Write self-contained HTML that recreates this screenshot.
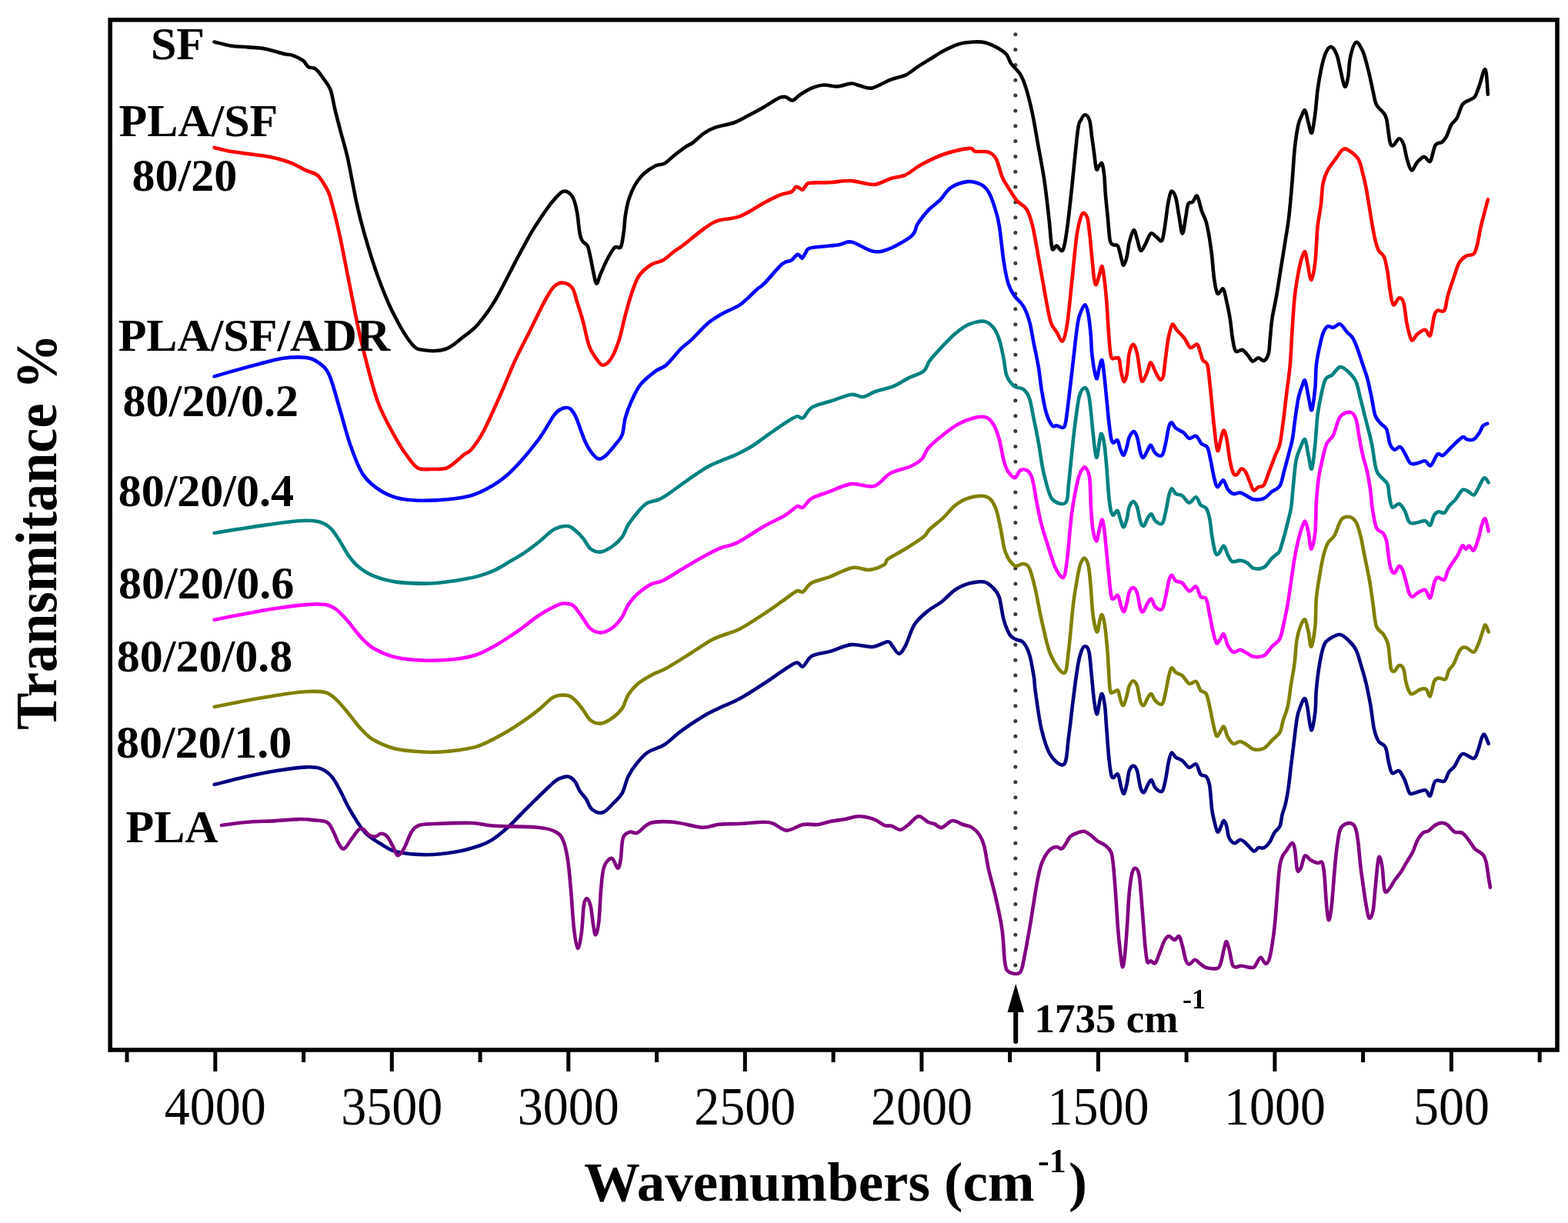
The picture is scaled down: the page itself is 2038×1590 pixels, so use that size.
<!DOCTYPE html>
<html><head><meta charset="utf-8"><title>FTIR</title>
<style>
html,body{margin:0;padding:0;background:#fff;}
svg{display:block;}
.b{font-family:"Liberation Serif","Times New Roman",serif;font-weight:bold;fill:#000;}
.r{font-family:"Liberation Serif","Times New Roman",serif;font-weight:normal;fill:#000;}
</style></head><body>
<svg width="2038" height="1590" viewBox="0 0 2038 1590">
<rect width="2038" height="1590" fill="#fff"/>
<g>
<rect x="143.2" y="25.8" width="1880.8" height="1339.2" fill="none" stroke="#000" stroke-width="5.6"/>
<path d="M1886.4,1365.0 V1393.0 M1656.9,1365.0 V1393.0 M1427.4,1365.0 V1393.0 M1197.9,1365.0 V1393.0 M968.3,1365.0 V1393.0 M738.8,1365.0 V1393.0 M509.3,1365.0 V1393.0 M279.8,1365.0 V1393.0 M2001.2,1365.0 V1381.0 M1771.6,1365.0 V1381.0 M1542.1,1365.0 V1381.0 M1312.6,1365.0 V1381.0 M1083.1,1365.0 V1381.0 M853.6,1365.0 V1381.0 M624.1,1365.0 V1381.0 M394.6,1365.0 V1381.0 M165.0,1365.0 V1381.0" stroke="#000" stroke-width="5" fill="none"/>
<text x="1886.4" y="1462" text-anchor="middle" font-size="69" textLength="99.0" lengthAdjust="spacingAndGlyphs" class="r">500</text>
<text x="1656.9" y="1462" text-anchor="middle" font-size="69" textLength="132.0" lengthAdjust="spacingAndGlyphs" class="r">1000</text>
<text x="1427.4" y="1462" text-anchor="middle" font-size="69" textLength="132.0" lengthAdjust="spacingAndGlyphs" class="r">1500</text>
<text x="1197.9" y="1462" text-anchor="middle" font-size="69" textLength="132.0" lengthAdjust="spacingAndGlyphs" class="r">2000</text>
<text x="968.3" y="1462" text-anchor="middle" font-size="69" textLength="132.0" lengthAdjust="spacingAndGlyphs" class="r">2500</text>
<text x="738.8" y="1462" text-anchor="middle" font-size="69" textLength="132.0" lengthAdjust="spacingAndGlyphs" class="r">3000</text>
<text x="509.3" y="1462" text-anchor="middle" font-size="69" textLength="132.0" lengthAdjust="spacingAndGlyphs" class="r">3500</text>
<text x="279.8" y="1462" text-anchor="middle" font-size="69" textLength="132.0" lengthAdjust="spacingAndGlyphs" class="r">4000</text>
<line x1="1319.8" y1="44.7" x2="1319.8" y2="1256" stroke="#3a3a3a" stroke-width="5" stroke-dasharray="0 19.84" stroke-linecap="round"/>
<path d="M278.6,54.5 C282.1,55.3 291.9,58.2 299.3,59.4 C306.7,60.5 315.3,60.7 322.8,61.4 C330.3,62.1 336.5,61.9 344.4,63.4 C352.2,64.9 364.0,68.8 369.9,70.2 C375.8,71.6 376.0,70.4 380.0,71.8 C384.0,73.2 390.3,76.2 393.8,78.7 C397.3,81.2 398.0,85.2 400.8,87.0 C403.6,88.8 407.1,87.0 410.5,89.8 C413.9,92.6 418.3,99.1 421.5,103.7 C424.7,108.3 427.5,111.0 429.8,117.5 C432.1,124.0 433.2,133.3 435.4,142.4 C437.6,151.5 440.2,161.4 443.0,172.0 C445.8,182.6 448.7,191.1 452.0,206.0 C455.3,220.9 459.3,244.8 463.0,261.4 C466.7,278.0 469.5,289.5 474.1,305.7 C478.7,321.9 484.7,341.7 490.7,358.3 C496.7,374.9 502.7,390.5 510.1,405.3 C517.5,420.1 528.1,438.6 535.0,446.9 C541.9,455.2 544.2,454.0 551.6,455.2 C559.0,456.4 571.0,456.6 579.3,453.8 C587.6,451.0 594.6,443.8 601.5,438.5 C608.4,433.2 614.0,429.8 620.9,421.9 C627.8,414.0 634.7,405.2 643.0,391.4 C651.3,377.5 663.0,353.2 670.7,338.8 C678.4,324.4 683.8,314.1 689.1,304.8 C694.5,295.5 697.9,290.4 702.8,283.2 C707.7,276.0 713.6,267.3 718.5,261.6 C723.4,255.9 728.0,249.8 732.2,248.8 C736.5,247.8 741.0,251.3 744.0,255.7 C747.0,260.1 748.3,267.1 749.9,275.3 C751.5,283.5 752.5,298.4 753.8,304.8 C755.1,311.2 755.9,311.5 757.5,314.0 C759.1,316.5 761.9,316.1 763.6,319.6 C765.3,323.2 766.3,329.4 767.6,335.3 C768.9,341.2 770.2,349.4 771.5,355.0 C772.8,360.6 773.9,368.4 775.4,368.7 C776.9,369.0 778.0,362.1 780.3,356.9 C782.6,351.7 786.1,343.2 789.2,337.3 C792.3,331.4 796.1,324.3 799.0,321.6 C801.9,318.9 804.8,324.7 806.8,321.2 C808.8,317.7 809.8,307.2 810.8,300.5 C811.8,293.8 811.7,287.7 812.7,281.2 C813.7,274.7 814.6,268.1 816.6,261.6 C818.6,255.1 821.2,247.9 824.5,242.0 C827.8,236.1 831.7,230.7 836.3,226.3 C840.9,221.9 847.4,217.8 852.0,215.5 C856.6,213.2 859.9,214.6 863.8,212.5 C867.7,210.4 870.9,206.3 875.5,202.7 C880.1,199.1 887.0,193.8 891.2,190.9 C895.5,188.0 897.1,188.0 901.0,185.1 C904.9,182.2 909.9,176.6 914.8,173.3 C919.7,170.0 924.0,167.7 930.5,165.4 C937.0,163.1 947.5,161.8 954.0,159.5 C960.5,157.2 963.2,155.1 969.7,151.7 C976.2,148.3 986.1,143.0 993.3,138.9 C1000.5,134.8 1008.2,129.3 1012.9,127.2 C1017.6,125.1 1018.6,125.6 1021.5,126.2 C1024.3,126.8 1027.0,131.1 1030.0,130.6 C1033.0,130.1 1035.6,125.9 1039.8,123.2 C1044.0,120.5 1050.1,116.5 1055.3,114.4 C1060.5,112.3 1065.4,110.8 1071.0,110.5 C1076.6,110.2 1082.8,112.7 1088.7,112.4 C1094.6,112.1 1101.5,108.7 1106.4,108.5 C1111.3,108.3 1113.5,110.5 1118.1,111.5 C1122.7,112.5 1127.2,115.7 1133.8,114.4 C1140.3,113.1 1150.2,106.4 1157.4,103.6 C1164.6,100.8 1171.1,100.5 1177.0,97.7 C1182.9,94.9 1187.5,90.3 1192.7,86.9 C1197.9,83.5 1202.8,80.5 1208.4,77.1 C1214.0,73.7 1219.9,69.6 1226.1,66.3 C1232.3,63.0 1239.2,59.5 1245.7,57.5 C1252.2,55.5 1259.4,54.8 1265.3,54.5 C1271.2,54.2 1275.4,54.0 1281.0,55.5 C1286.6,57.0 1294.1,60.8 1298.7,63.4 C1303.3,66.0 1305.9,67.9 1308.5,71.2 C1311.1,74.5 1311.5,78.8 1314.4,83.0 C1317.4,87.2 1322.9,91.1 1326.2,96.7 C1329.5,102.3 1331.5,107.9 1334.1,116.4 C1336.7,124.9 1339.3,135.4 1341.9,147.8 C1344.5,160.2 1347.1,176.2 1349.7,190.9 C1352.3,205.6 1355.3,220.4 1357.6,236.1 C1359.9,251.8 1361.9,270.6 1363.5,285.0 C1365.1,299.4 1365.8,316.7 1367.4,322.5 C1369.0,328.3 1371.0,319.2 1373.3,319.6 C1375.6,320.0 1379.2,328.8 1381.5,325.0 C1383.8,321.2 1385.1,310.2 1387.0,297.0 C1388.9,283.8 1390.6,267.1 1392.9,245.9 C1395.2,224.7 1398.8,185.0 1400.8,170.0 C1402.8,155.0 1403.4,159.5 1405.0,156.0 C1406.6,152.5 1408.4,149.1 1410.3,149.2 C1412.2,149.3 1414.7,151.9 1416.2,156.6 C1417.7,161.3 1418.1,170.1 1419.1,177.2 C1420.1,184.3 1421.1,192.2 1422.1,199.3 C1423.1,206.4 1423.9,217.2 1425.0,219.9 C1426.1,222.6 1427.5,216.7 1428.7,215.5 C1429.9,214.3 1431.3,210.3 1432.4,212.5 C1433.5,214.7 1434.6,222.1 1435.3,228.7 C1436.0,235.3 1436.1,243.3 1436.8,252.1 C1437.5,260.9 1438.7,271.4 1439.7,281.5 C1440.7,291.6 1441.5,306.3 1442.7,312.4 C1443.9,318.5 1445.4,317.1 1447.1,318.3 C1448.8,319.5 1451.3,316.9 1453.0,319.8 C1454.7,322.8 1456.2,331.8 1457.4,336.0 C1458.6,340.2 1459.2,345.3 1460.4,344.8 C1461.6,344.3 1463.6,337.9 1464.8,333.0 C1466.0,328.1 1466.2,321.0 1467.7,315.4 C1469.2,309.8 1471.9,299.9 1473.6,299.2 C1475.3,298.5 1476.5,306.6 1478.0,311.0 C1479.5,315.4 1480.7,324.5 1482.4,325.7 C1484.1,326.9 1486.1,322.0 1488.3,318.3 C1490.5,314.6 1493.2,305.3 1495.7,303.6 C1498.2,301.9 1500.5,306.5 1503.0,308.0 C1505.5,309.5 1508.4,315.6 1510.4,312.4 C1512.4,309.2 1513.6,296.5 1514.8,288.9 C1516.0,281.3 1516.6,273.4 1517.8,266.8 C1519.0,260.2 1520.5,250.8 1522.2,249.1 C1523.9,247.4 1526.4,251.1 1528.1,256.5 C1529.8,261.9 1531.0,273.6 1532.5,281.5 C1534.0,289.4 1535.4,303.6 1536.9,303.6 C1538.4,303.6 1540.1,287.9 1541.3,281.5 C1542.5,275.1 1542.8,268.5 1544.3,265.3 C1545.8,262.1 1548.2,264.1 1550.2,262.4 C1552.2,260.7 1554.0,253.0 1556.0,255.0 C1558.0,257.0 1559.9,268.6 1561.9,274.2 C1563.9,279.8 1566.1,282.8 1567.8,288.9 C1569.5,295.0 1571.0,303.6 1572.2,311.0 C1573.4,318.4 1574.2,324.4 1575.2,333.0 C1576.2,341.6 1576.9,354.4 1578.1,362.5 C1579.3,370.6 1580.5,379.4 1582.5,381.6 C1584.5,383.8 1587.9,374.0 1589.9,375.7 C1591.9,377.4 1592.8,385.5 1594.3,391.9 C1595.8,398.3 1597.4,406.0 1598.7,414.0 C1600.0,422.0 1600.8,432.9 1602.0,440.0 C1603.2,447.1 1603.9,454.0 1606.1,456.5 C1608.2,459.0 1612.2,454.0 1614.9,455.0 C1617.6,456.0 1620.1,459.9 1622.3,462.4 C1624.5,464.8 1626.0,469.2 1628.2,469.7 C1630.4,470.2 1633.0,465.4 1635.5,465.3 C1638.0,465.2 1640.7,470.0 1642.9,469.0 C1645.1,468.0 1647.5,464.2 1648.8,459.4 C1650.1,454.6 1650.0,447.6 1650.8,440.0 C1651.6,432.4 1652.1,423.2 1653.5,414.0 C1654.9,404.8 1657.2,395.6 1659.1,384.6 C1661.0,373.6 1663.0,360.1 1665.0,347.8 C1667.0,335.5 1669.2,322.1 1670.9,311.0 C1672.6,299.9 1673.9,293.3 1675.3,281.5 C1676.7,269.7 1677.9,254.9 1679.2,240.0 C1680.5,225.1 1681.5,204.8 1682.9,191.9 C1684.3,179.0 1685.9,169.4 1687.4,162.5 C1688.9,155.6 1690.3,153.9 1691.8,150.7 C1693.3,147.5 1694.7,141.9 1696.2,143.4 C1697.7,144.9 1699.1,154.6 1700.6,159.5 C1702.1,164.4 1703.5,174.8 1705.0,172.8 C1706.5,170.9 1708.2,156.9 1709.4,147.8 C1710.6,138.7 1711.2,127.6 1712.4,118.3 C1713.6,109.0 1715.1,99.9 1716.8,91.8 C1718.5,83.7 1720.5,74.9 1722.7,69.7 C1724.9,64.5 1727.6,60.6 1730.1,60.9 C1732.5,61.1 1735.5,66.5 1737.4,71.2 C1739.4,75.9 1740.1,82.0 1741.8,88.9 C1743.5,95.8 1746.0,110.4 1747.7,112.4 C1749.4,114.4 1750.9,107.1 1752.1,100.7 C1753.3,94.3 1753.4,81.8 1755.1,74.2 C1756.8,66.6 1759.7,56.2 1762.4,55.0 C1765.1,53.8 1768.6,60.7 1771.3,66.8 C1774.0,72.9 1776.4,83.2 1778.6,91.8 C1780.8,100.4 1782.8,110.9 1784.5,118.3 C1786.2,125.7 1786.7,131.3 1788.9,136.0 C1791.1,140.7 1795.6,143.1 1797.8,146.3 C1800.0,149.5 1800.7,148.7 1802.2,155.1 C1803.7,161.5 1805.1,178.9 1806.6,184.6 C1808.1,190.2 1809.0,189.7 1811.0,189.0 C1813.0,188.3 1816.2,180.4 1818.4,180.2 C1820.6,179.9 1822.6,183.1 1824.3,187.5 C1826.0,191.9 1827.0,201.0 1828.7,206.7 C1830.4,212.3 1832.4,220.7 1834.6,221.4 C1836.8,222.1 1839.2,214.1 1841.9,211.1 C1844.6,208.1 1848.0,203.9 1850.8,203.7 C1853.6,203.4 1856.5,212.0 1858.9,209.6 C1861.4,207.2 1862.9,193.2 1865.5,189.0 C1868.1,184.8 1871.8,186.6 1874.3,184.6 C1876.8,182.6 1878.2,180.9 1880.2,177.2 C1882.2,173.5 1883.9,166.4 1886.1,162.5 C1888.3,158.6 1891.0,158.1 1893.5,153.7 C1896.0,149.3 1898.1,139.9 1900.8,136.0 C1903.5,132.1 1907.0,131.8 1909.7,130.1 C1912.4,128.4 1914.8,128.9 1917.0,125.7 C1919.2,122.5 1920.9,116.7 1922.9,111.0 C1924.9,105.3 1927.3,94.5 1928.8,91.8 C1930.3,89.1 1930.8,89.6 1931.7,94.8 C1932.6,100.0 1933.5,118.0 1933.9,122.7" stroke="#000000" stroke-width="4.6" fill="none" stroke-linejoin="round" stroke-linecap="round"/>
<path d="M278.6,191.9 C282.1,192.7 291.0,195.3 299.3,196.8 C307.6,198.3 319.6,199.5 328.7,200.8 C337.8,202.1 346.0,202.9 354.2,204.7 C362.4,206.5 370.6,208.8 377.8,211.6 C385.0,214.4 391.5,218.6 397.4,221.4 C403.3,224.2 408.5,224.1 413.1,228.2 C417.7,232.3 422.1,240.8 424.9,245.9 C427.7,251.0 427.1,249.1 429.8,258.6 C432.5,268.1 437.2,286.4 440.9,303.0 C444.6,319.6 448.3,339.9 452.0,358.3 C455.7,376.8 459.7,397.8 463.0,413.7 C466.3,429.6 467.3,435.6 472.0,453.8 C476.7,472.0 483.9,503.2 491.3,523.0 C498.7,542.8 509.3,560.3 516.2,572.8 C523.1,585.2 528.2,591.7 532.8,597.7 C537.4,603.7 539.4,606.8 543.9,608.8 C548.4,610.8 554.0,610.0 560.0,610.0 C566.0,610.0 574.3,610.6 579.9,608.8 C585.5,607.0 589.9,602.2 593.7,599.2 C597.6,596.2 599.8,593.5 603.0,591.0 C606.2,588.5 608.8,589.1 613.1,583.9 C617.4,578.7 622.4,572.1 628.8,560.0 C635.2,547.9 644.5,526.5 651.4,511.0 C658.3,495.5 664.0,480.5 670.3,466.9 C676.6,453.3 682.9,441.8 689.2,429.2 C695.5,416.6 702.9,400.8 708.0,391.4 C713.1,382.0 716.0,376.6 720.0,372.6 C724.0,368.7 728.2,367.4 732.2,367.7 C736.2,368.0 741.0,370.5 744.0,374.6 C747.0,378.7 747.6,385.0 749.9,392.2 C752.2,399.4 755.2,408.3 757.8,417.8 C760.4,427.3 762.7,441.0 765.6,449.2 C768.5,457.4 772.3,462.6 775.4,466.8 C778.5,471.1 781.0,475.0 784.3,474.7 C787.6,474.4 791.7,470.5 795.1,464.9 C798.5,459.3 802.0,450.5 804.9,441.3 C807.8,432.1 810.1,419.7 812.7,409.9 C815.3,400.1 817.7,390.9 820.6,382.4 C823.5,373.9 826.1,365.3 830.4,358.9 C834.6,352.5 840.9,347.6 846.1,344.2 C851.3,340.8 856.9,341.1 861.8,338.3 C866.7,335.5 870.9,330.9 875.5,327.5 C880.1,324.1 882.8,322.7 889.3,317.7 C895.8,312.7 907.6,302.6 914.8,297.5 C922.0,292.4 924.5,289.8 932.4,287.1 C940.2,284.4 951.8,285.1 961.9,281.2 C972.0,277.3 984.8,268.2 993.3,263.6 C1001.8,259.0 1006.9,256.2 1012.8,253.8 C1018.7,251.4 1025.2,251.2 1028.7,249.4 C1032.2,247.6 1032.4,244.1 1034.0,243.2 C1035.6,242.3 1037.0,243.4 1038.5,244.0 C1040.0,244.6 1041.4,247.0 1042.8,246.7 C1044.2,246.4 1045.5,243.5 1047.0,242.0 C1048.5,240.5 1047.0,238.7 1051.6,237.9 C1056.9,237.1 1069.8,237.6 1078.9,237.1 C1088.0,236.6 1096.9,234.6 1106.4,235.1 C1115.9,235.6 1127.3,240.5 1135.8,240.0 C1144.3,239.5 1150.5,234.3 1157.4,232.2 C1164.3,230.1 1170.5,230.2 1177.0,227.3 C1183.5,224.4 1188.4,218.9 1196.6,214.5 C1204.8,210.1 1215.6,204.4 1226.1,200.8 C1236.6,197.2 1252.6,193.6 1259.5,192.9 C1266.4,192.2 1263.0,196.0 1267.3,196.8 C1271.5,197.6 1280.4,196.2 1285.0,197.8 C1289.6,199.4 1291.9,201.2 1294.8,206.6 C1297.7,212.0 1300.0,224.0 1302.6,230.2 C1305.2,236.4 1307.2,238.7 1310.5,243.9 C1313.8,249.1 1318.4,257.0 1322.3,261.6 C1326.2,266.2 1330.7,266.2 1334.0,271.4 C1337.3,276.6 1339.3,282.6 1341.9,293.0 C1344.5,303.4 1347.1,319.8 1349.7,334.0 C1352.3,348.2 1355.0,364.5 1357.6,378.5 C1360.2,392.5 1362.8,409.0 1365.4,417.8 C1368.0,426.6 1370.7,427.2 1373.3,431.5 C1375.9,435.8 1378.8,444.9 1381.1,443.3 C1383.4,441.7 1385.0,434.1 1387.0,421.7 C1389.0,409.3 1390.9,387.3 1392.9,368.7 C1394.9,350.1 1397.3,323.3 1399.0,310.0 C1400.7,296.7 1401.5,294.4 1402.9,288.9 C1404.3,283.4 1405.7,278.1 1407.4,277.1 C1409.1,276.1 1411.7,278.6 1413.2,283.0 C1414.7,287.4 1415.2,295.3 1416.2,303.6 C1417.2,311.9 1418.1,323.2 1419.1,333.0 C1420.1,342.8 1421.1,356.4 1422.1,362.5 C1423.1,368.6 1423.8,371.1 1425.0,369.9 C1426.2,368.7 1428.2,359.0 1429.4,355.1 C1430.6,351.2 1431.4,345.1 1432.4,346.3 C1433.4,347.5 1434.3,354.9 1435.3,362.5 C1436.3,370.1 1437.3,379.6 1438.3,391.9 C1439.3,404.1 1440.2,424.0 1441.2,436.0 C1442.2,448.0 1442.7,459.0 1444.2,463.9 C1445.7,468.8 1448.4,464.8 1450.1,465.3 C1451.8,465.8 1453.3,463.6 1454.5,466.8 C1455.7,470.0 1456.3,479.6 1457.4,484.5 C1458.5,489.4 1459.9,496.0 1461.1,496.2 C1462.3,496.4 1463.7,492.0 1464.8,485.9 C1465.9,479.8 1466.3,465.8 1467.7,459.4 C1469.1,453.0 1471.2,447.7 1472.9,447.7 C1474.6,447.7 1476.4,452.5 1478.0,459.4 C1479.6,466.3 1481.2,482.9 1482.4,488.9 C1483.6,494.9 1483.9,496.5 1485.4,495.5 C1486.9,494.5 1489.6,487.1 1491.3,483.0 C1493.0,478.9 1494.0,471.2 1495.7,471.2 C1497.4,471.2 1499.6,479.3 1501.6,483.0 C1503.6,486.7 1505.8,492.3 1507.5,493.3 C1509.2,494.3 1510.7,493.3 1511.9,488.9 C1513.1,484.5 1513.7,474.9 1514.8,466.8 C1515.9,458.7 1517.0,447.5 1518.5,440.0 C1520.0,432.5 1521.9,423.8 1523.7,422.0 C1525.5,420.2 1526.8,425.9 1529.5,429.0 C1532.2,432.1 1536.8,436.4 1539.8,440.3 C1542.8,444.2 1544.5,450.9 1547.2,452.1 C1549.9,453.3 1553.8,446.5 1556.0,447.7 C1558.2,448.9 1559.3,456.0 1560.5,459.4 C1561.7,462.8 1561.9,465.8 1563.4,468.3 C1564.9,470.8 1567.8,469.6 1569.3,474.2 C1570.8,478.8 1571.2,487.6 1572.2,496.2 C1573.2,504.8 1574.2,515.9 1575.2,525.7 C1576.2,535.5 1576.9,545.1 1578.1,555.1 C1579.3,565.1 1581.0,583.5 1582.5,586.0 C1584.0,588.5 1585.7,574.3 1587.0,569.9 C1588.3,565.5 1589.4,559.5 1590.6,559.5 C1591.8,559.5 1592.9,563.3 1594.3,569.9 C1595.7,576.5 1597.2,591.7 1598.7,599.3 C1600.2,606.9 1601.6,612.5 1603.1,615.5 C1604.6,618.5 1605.9,618.0 1607.6,617.0 C1609.3,616.0 1611.5,610.1 1613.5,609.6 C1615.5,609.1 1617.3,610.8 1619.3,614.0 C1621.2,617.2 1623.5,624.8 1625.2,628.7 C1626.9,632.6 1627.9,636.9 1629.6,637.6 C1631.3,638.4 1633.3,634.4 1635.5,633.2 C1637.7,632.0 1640.4,633.9 1642.9,630.2 C1645.4,626.5 1647.8,617.5 1650.3,611.1 C1652.8,604.7 1655.4,597.5 1657.6,591.9 C1659.8,586.2 1661.8,584.6 1663.5,577.2 C1665.2,569.9 1666.4,558.8 1667.9,547.8 C1669.4,536.8 1670.8,523.3 1672.3,511.0 C1673.8,498.7 1675.5,488.5 1676.8,474.2 C1678.0,459.9 1678.8,439.9 1679.8,425.0 C1680.8,410.1 1681.6,396.2 1682.9,384.6 C1684.2,373.0 1685.9,363.2 1687.4,355.1 C1688.9,347.0 1690.3,340.6 1691.8,336.0 C1693.3,331.4 1695.0,326.5 1696.2,327.2 C1697.4,327.9 1697.8,334.3 1699.1,340.4 C1700.4,346.5 1702.6,364.0 1704.3,364.0 C1706.0,364.0 1708.1,351.7 1709.4,340.4 C1710.8,329.1 1711.2,308.5 1712.4,296.2 C1713.6,283.9 1715.6,276.5 1716.8,266.8 C1718.0,257.1 1718.2,245.6 1719.7,238.0 C1721.2,230.4 1722.9,226.6 1725.6,221.4 C1728.3,216.2 1732.7,211.1 1735.9,206.7 C1739.1,202.3 1742.1,196.9 1744.8,194.9 C1747.5,192.9 1748.7,192.9 1752.1,194.9 C1755.5,196.9 1762.2,201.5 1765.4,206.7 C1768.6,211.8 1769.6,219.4 1771.3,225.8 C1773.0,232.2 1773.8,234.5 1775.7,245.0 C1777.7,255.5 1781.0,277.7 1783.0,288.9 C1785.0,300.1 1786.0,306.3 1787.5,312.4 C1789.0,318.5 1790.0,322.0 1791.9,325.7 C1793.9,329.4 1797.2,329.6 1799.2,334.5 C1801.2,339.4 1802.5,348.0 1803.7,355.1 C1804.9,362.2 1805.4,370.3 1806.6,377.2 C1807.8,384.1 1809.0,394.6 1811.0,396.3 C1813.0,398.0 1816.2,388.0 1818.4,387.5 C1820.6,387.0 1822.6,387.8 1824.3,393.4 C1826.0,399.0 1827.0,413.3 1828.7,421.4 C1830.4,429.5 1832.4,439.8 1834.6,442.0 C1836.8,444.2 1839.0,436.8 1841.9,434.6 C1844.8,432.4 1849.4,428.4 1852.2,428.7 C1855.0,428.9 1856.9,439.0 1858.9,436.1 C1860.9,433.2 1862.4,416.5 1864.0,411.1 C1865.6,405.7 1866.2,404.9 1868.4,403.7 C1870.6,402.5 1875.1,406.9 1877.3,403.7 C1879.5,400.5 1879.8,391.5 1881.7,384.6 C1883.7,377.7 1886.5,369.6 1889.0,362.5 C1891.5,355.4 1893.7,346.8 1896.4,341.9 C1899.1,337.0 1902.0,335.0 1905.2,333.0 C1908.4,331.0 1913.0,332.6 1915.5,330.1 C1918.0,327.7 1918.5,324.0 1920.0,318.3 C1921.5,312.6 1922.9,302.8 1924.4,296.2 C1925.9,289.6 1927.2,284.7 1928.8,278.6 C1930.4,272.5 1933.1,262.6 1933.9,259.4" stroke="#ff0000" stroke-width="4.6" fill="none" stroke-linejoin="round" stroke-linecap="round"/>
<path d="M278.6,489.4 C283.7,487.9 299.1,483.4 309.1,480.6 C319.1,477.8 328.7,475.2 338.5,472.7 C348.3,470.2 358.2,467.1 368.0,465.8 C377.8,464.5 389.9,464.1 397.4,464.9 C404.9,465.7 408.1,467.1 413.1,470.8 C418.2,474.5 423.0,476.9 427.7,487.0 C432.4,497.1 436.9,516.1 441.5,531.3 C446.1,546.5 450.2,564.1 455.3,578.4 C460.4,592.7 465.1,607.0 472.0,617.1 C478.9,627.2 488.1,634.0 496.8,639.3 C505.6,644.6 513.0,647.1 524.5,649.0 C536.0,650.9 551.7,651.1 566.0,650.4 C580.3,649.7 597.8,648.0 610.3,644.8 C622.8,641.6 631.5,636.5 640.7,631.0 C649.9,625.5 655.9,621.3 665.6,611.6 C675.3,601.9 689.8,584.7 698.9,572.8 C708.0,560.9 715.0,546.8 720.0,540.0 C725.0,533.2 726.3,533.7 729.0,532.0 C731.7,530.3 733.8,530.0 736.0,530.0 C738.2,530.0 739.9,529.9 742.0,532.0 C744.1,534.1 745.6,535.6 748.6,542.4 C751.6,549.2 756.8,565.4 760.0,572.8 C763.2,580.2 764.7,582.7 767.6,586.6 C770.5,590.5 774.1,595.4 777.4,596.4 C780.7,597.4 783.3,595.7 787.2,592.4 C791.1,589.1 797.3,581.3 800.9,576.7 C804.5,572.1 806.8,570.5 808.8,565.0 C810.8,559.5 810.7,550.6 812.7,543.4 C814.7,536.2 817.3,529.0 820.6,521.8 C823.9,514.6 827.1,506.8 832.3,500.2 C837.5,493.6 846.4,486.8 852.0,482.5 C857.6,478.2 860.2,479.6 865.7,474.7 C871.2,469.8 879.7,458.7 885.3,453.1 C890.9,447.5 893.2,446.9 899.1,441.3 C905.0,435.7 913.8,425.4 920.7,419.7 C927.6,414.0 933.4,410.9 940.3,407.0 C947.2,403.1 954.7,401.3 961.9,396.2 C969.1,391.1 978.3,381.1 983.5,376.5 C988.7,371.9 987.8,374.2 993.3,368.7 C998.8,363.2 1010.4,348.7 1016.3,343.6 C1022.2,338.5 1025.5,340.4 1028.7,338.3 C1031.9,336.2 1034.0,332.2 1035.7,331.2 C1037.4,330.1 1037.8,331.3 1039.0,332.0 C1040.2,332.7 1041.5,336.1 1042.8,335.6 C1044.1,335.1 1045.2,331.2 1047.0,329.0 C1048.8,326.8 1047.0,324.1 1053.3,322.4 C1060.2,320.6 1079.8,319.8 1088.7,318.5 C1097.6,317.2 1098.9,313.3 1106.4,314.6 C1113.9,315.9 1126.0,324.8 1133.8,326.4 C1141.6,328.0 1145.0,327.7 1153.5,324.4 C1162.0,321.1 1178.4,312.3 1184.9,306.7 C1191.4,301.1 1189.1,296.6 1192.7,291.0 C1196.3,285.4 1201.6,278.6 1206.5,273.4 C1211.4,268.2 1217.3,264.5 1222.2,259.6 C1227.1,254.7 1230.0,247.8 1235.9,243.9 C1241.8,240.0 1251.0,236.8 1257.5,236.1 C1264.0,235.4 1270.6,237.7 1275.2,240.0 C1279.8,242.3 1282.1,244.9 1285.0,249.8 C1287.9,254.7 1290.5,262.3 1292.8,269.5 C1295.1,276.7 1296.7,281.2 1298.7,293.0 C1300.7,304.8 1302.6,327.4 1304.6,340.0 C1306.6,352.6 1308.2,361.3 1310.5,368.7 C1312.8,376.1 1315.0,379.5 1318.3,384.4 C1321.6,389.3 1326.8,392.5 1330.1,398.1 C1333.4,403.7 1335.7,409.6 1338.0,417.8 C1340.3,426.0 1341.8,437.4 1343.8,447.2 C1345.8,457.0 1348.0,466.8 1349.7,476.6 C1351.4,486.4 1352.1,496.3 1353.7,506.1 C1355.3,515.9 1357.2,527.6 1359.5,535.5 C1361.8,543.4 1365.1,550.2 1367.4,553.2 C1369.7,556.2 1370.7,552.9 1373.3,553.2 C1375.9,553.5 1380.8,558.2 1383.1,555.2 C1385.4,552.2 1385.4,547.0 1387.0,535.5 C1388.6,524.0 1390.7,505.1 1392.9,486.5 C1395.1,467.9 1398.3,437.3 1400.2,424.0 C1402.1,410.7 1402.7,411.3 1404.4,406.7 C1406.1,402.1 1408.6,395.8 1410.3,396.3 C1412.0,396.8 1413.5,403.2 1414.7,409.6 C1415.9,416.1 1416.9,426.3 1417.7,435.0 C1418.5,443.7 1418.3,452.5 1419.5,462.0 C1420.7,471.5 1423.5,489.0 1425.0,491.8 C1426.5,494.6 1427.5,482.5 1428.7,478.6 C1429.9,474.7 1431.3,466.6 1432.4,468.3 C1433.5,470.0 1434.3,480.6 1435.3,488.9 C1436.3,497.2 1437.3,508.5 1438.3,518.3 C1439.3,528.1 1440.2,539.2 1441.2,547.8 C1442.2,556.4 1443.2,565.2 1444.2,569.9 C1445.2,574.5 1445.8,575.3 1447.1,575.7 C1448.4,576.1 1450.8,570.9 1452.3,572.1 C1453.8,573.3 1454.6,579.8 1455.9,583.1 C1457.2,586.4 1458.9,592.4 1460.4,591.9 C1461.9,591.4 1463.6,584.1 1464.8,580.2 C1466.0,576.3 1466.2,571.6 1467.7,568.4 C1469.2,565.2 1471.9,561.0 1473.6,561.0 C1475.3,561.0 1476.5,563.7 1478.0,568.4 C1479.5,573.1 1481.1,584.6 1482.4,589.0 C1483.8,593.4 1484.6,595.4 1486.1,594.9 C1487.6,594.4 1489.7,588.7 1491.3,586.0 C1492.9,583.3 1494.0,578.2 1495.7,578.7 C1497.4,579.2 1499.1,586.8 1501.6,589.0 C1504.0,591.2 1508.2,593.9 1510.4,591.9 C1512.6,589.9 1513.3,583.3 1514.8,577.2 C1516.3,571.1 1517.8,559.8 1519.2,555.1 C1520.6,550.4 1521.4,549.0 1522.9,549.2 C1524.4,549.5 1525.5,554.4 1528.1,556.6 C1530.7,558.8 1535.5,560.3 1538.4,562.5 C1541.3,564.7 1543.0,569.2 1545.7,569.9 C1548.4,570.6 1551.9,565.7 1554.6,566.9 C1557.3,568.1 1559.5,574.8 1561.9,577.2 C1564.4,579.7 1567.3,577.9 1569.3,581.6 C1571.3,585.3 1572.2,592.7 1573.7,599.3 C1575.2,605.9 1576.6,615.8 1578.1,621.4 C1579.6,627.0 1580.5,632.7 1582.5,633.2 C1584.5,633.7 1587.7,623.8 1589.9,624.3 C1592.1,624.8 1593.6,633.1 1595.8,636.1 C1598.0,639.1 1600.4,641.3 1603.1,642.0 C1605.8,642.7 1609.0,640.0 1612.0,640.5 C1615.0,641.0 1617.9,643.4 1620.8,644.9 C1623.7,646.4 1625.9,648.8 1629.6,649.3 C1633.3,649.8 1639.0,649.6 1642.9,647.9 C1646.8,646.2 1649.8,641.7 1653.2,639.0 C1656.6,636.3 1660.8,636.4 1663.5,631.7 C1666.2,627.1 1667.4,618.2 1669.4,611.1 C1671.4,604.0 1673.5,595.9 1675.3,589.0 C1677.1,582.1 1678.7,576.9 1680.0,570.0 C1681.3,563.1 1681.7,556.4 1682.9,547.8 C1684.1,539.2 1685.9,525.7 1687.4,518.3 C1688.9,510.9 1690.3,507.5 1691.8,503.6 C1693.3,499.7 1694.7,492.8 1696.2,494.8 C1697.7,496.8 1699.1,509.0 1700.6,515.4 C1702.1,521.8 1703.5,535.0 1705.0,533.0 C1706.5,531.0 1708.4,513.4 1709.4,503.6 C1710.4,493.8 1709.9,483.1 1710.9,474.2 C1711.9,465.3 1713.8,456.8 1715.3,450.0 C1716.8,443.2 1718.0,437.5 1719.7,433.2 C1721.4,428.9 1723.4,425.5 1725.6,424.3 C1727.8,423.1 1730.3,426.3 1733.0,425.8 C1735.7,425.3 1738.8,420.4 1741.8,421.4 C1744.8,422.4 1748.0,428.8 1750.7,431.7 C1753.4,434.6 1755.8,435.6 1758.0,439.0 C1760.2,442.4 1761.7,446.2 1763.9,452.1 C1766.1,458.0 1769.1,467.6 1771.3,474.2 C1773.5,480.8 1775.2,484.5 1777.2,491.8 C1779.2,499.1 1781.3,510.2 1783.0,518.3 C1784.7,526.4 1785.5,535.0 1787.5,540.4 C1789.5,545.8 1792.3,547.8 1794.8,550.7 C1797.2,553.7 1800.2,553.7 1802.2,558.1 C1804.2,562.5 1804.9,572.8 1806.6,577.2 C1808.3,581.6 1810.3,584.0 1812.5,584.6 C1814.7,585.2 1817.7,580.2 1819.9,580.9 C1822.1,581.6 1823.5,585.5 1825.7,589.0 C1827.9,592.5 1830.4,600.0 1833.1,602.2 C1835.8,604.4 1838.7,602.7 1841.9,602.2 C1845.1,601.7 1849.2,598.8 1852.2,599.3 C1855.2,599.8 1856.9,606.7 1859.6,605.2 C1862.3,603.7 1865.7,592.7 1868.4,590.5 C1871.1,588.3 1872.8,593.4 1875.8,591.9 C1878.8,590.4 1881.9,585.5 1886.1,581.6 C1890.3,577.7 1897.4,570.1 1900.8,568.4 C1904.2,566.7 1904.2,570.8 1906.7,571.3 C1909.2,571.8 1912.8,572.8 1915.5,571.3 C1918.2,569.8 1920.9,565.4 1922.9,562.5 C1924.9,559.6 1925.6,555.7 1927.3,553.7 C1929.0,551.7 1932.2,551.2 1933.2,550.7" stroke="#0000ff" stroke-width="4.6" fill="none" stroke-linejoin="round" stroke-linecap="round"/>
<path d="M278.6,692.9 C283.7,692.1 297.5,689.8 309.1,688.0 C320.7,686.2 335.2,683.9 348.3,682.1 C361.4,680.3 376.8,677.9 387.6,677.2 C398.4,676.5 406.2,676.6 413.1,678.1 C420.0,679.6 424.2,682.1 428.8,686.0 C433.4,689.9 436.7,695.8 440.6,701.7 C444.5,707.6 448.1,715.4 452.3,721.3 C456.6,727.2 460.5,732.4 466.1,737.0 C471.7,741.6 477.5,745.5 485.7,748.8 C493.9,752.1 503.8,755.0 515.2,756.6 C526.7,758.2 543.6,758.6 554.4,758.6 C565.2,758.6 572.5,757.4 580.1,756.5 C587.8,755.6 593.6,754.7 600.3,753.5 C607.0,752.3 613.7,751.2 620.4,749.4 C627.1,747.5 633.8,745.4 640.5,742.4 C647.2,739.4 653.9,735.2 660.6,731.3 C667.3,727.4 674.1,723.7 680.8,719.2 C687.5,714.7 694.3,709.4 700.9,704.2 C707.5,699.0 714.3,691.4 720.5,688.0 C726.7,684.6 733.5,683.7 738.1,684.0 C742.7,684.3 744.7,687.3 748.0,689.9 C751.3,692.5 754.5,695.8 757.8,699.7 C761.1,703.6 763.7,710.5 767.6,713.5 C771.5,716.5 776.4,718.1 781.3,717.4 C786.2,716.7 792.4,712.8 797.0,709.5 C801.6,706.2 805.5,702.4 808.8,697.8 C812.1,693.2 813.3,687.3 816.6,682.1 C819.9,676.9 824.5,671.0 828.4,666.4 C832.3,661.8 835.6,657.4 840.2,654.6 C844.8,651.8 851.3,651.7 855.9,649.7 C860.5,647.7 861.2,647.2 867.7,642.8 C874.2,638.4 886.7,629.1 895.2,623.2 C903.7,617.3 911.5,611.6 918.7,607.5 C925.9,603.4 931.8,601.4 938.3,598.6 C944.8,595.8 951.5,593.6 958.0,590.5 C964.5,587.4 971.7,583.6 977.6,580.0 C983.5,576.4 986.2,573.9 993.3,568.9 C1000.4,563.9 1013.3,554.6 1020.4,550.0 C1027.5,545.4 1031.8,542.5 1035.7,541.4 C1039.6,540.3 1040.3,545.4 1043.6,543.4 C1046.9,541.4 1049.4,533.2 1055.3,529.6 C1061.2,526.0 1070.4,524.6 1078.9,521.8 C1087.4,519.0 1099.2,514.0 1106.4,513.0 C1113.6,512.0 1116.9,516.6 1122.1,515.9 C1127.3,515.2 1131.3,511.3 1137.8,509.0 C1144.3,506.7 1154.1,505.1 1161.3,502.2 C1168.5,499.3 1174.4,494.7 1180.9,491.4 C1187.5,488.1 1196.0,486.3 1200.6,482.5 C1205.2,478.7 1204.5,474.0 1208.4,468.8 C1212.3,463.6 1218.5,457.0 1224.1,451.1 C1229.7,445.2 1235.9,438.4 1241.8,433.5 C1247.7,428.6 1253.3,424.3 1259.5,421.7 C1265.7,419.1 1273.9,417.1 1279.1,417.8 C1284.3,418.5 1287.6,421.7 1290.9,425.6 C1294.2,429.5 1296.4,434.4 1298.7,441.3 C1301.0,448.2 1303.0,459.0 1304.6,466.8 C1306.2,474.6 1306.2,482.5 1308.5,488.4 C1310.8,494.3 1314.7,499.2 1318.3,502.2 C1321.9,505.1 1326.8,503.5 1330.1,506.1 C1333.4,508.7 1335.7,511.4 1338.0,517.9 C1340.3,524.4 1341.8,535.8 1343.8,545.3 C1345.8,554.8 1348.0,565.7 1349.7,574.8 C1351.4,583.9 1352.4,592.6 1353.7,600.0 C1355.0,607.4 1355.3,611.2 1357.6,619.3 C1359.9,627.4 1362.8,643.0 1367.4,648.7 C1372.0,654.4 1381.5,656.9 1385.1,653.6 C1388.7,650.3 1387.7,639.7 1389.0,629.1 C1390.3,618.5 1391.7,602.3 1393.0,590.0 C1394.3,577.7 1395.2,567.6 1396.8,555.2 C1398.4,542.9 1400.6,524.4 1402.7,515.9 C1404.8,507.4 1407.6,504.7 1409.6,504.1 C1411.6,503.5 1413.3,507.6 1414.7,512.4 C1416.1,517.2 1416.7,524.6 1417.7,533.0 C1418.7,541.4 1419.4,552.2 1420.6,562.5 C1421.8,572.8 1423.5,593.4 1425.0,594.9 C1426.5,596.4 1428.3,576.4 1429.4,571.3 C1430.5,566.1 1430.6,563.0 1431.6,564.0 C1432.6,565.0 1434.2,570.1 1435.3,577.2 C1436.4,584.3 1437.3,595.4 1438.3,606.7 C1439.3,618.0 1440.2,635.2 1441.2,645.0 C1442.2,654.8 1443.2,661.2 1444.2,665.3 C1445.2,669.4 1445.8,669.9 1447.1,669.7 C1448.4,669.5 1450.8,663.1 1452.3,663.9 C1453.8,664.6 1454.6,670.7 1455.9,674.2 C1457.2,677.8 1458.9,685.2 1460.4,685.2 C1461.9,685.2 1463.6,678.5 1464.8,674.2 C1466.0,669.9 1466.3,663.1 1467.7,659.4 C1469.1,655.7 1471.2,652.1 1472.9,652.1 C1474.6,652.1 1476.4,655.0 1478.0,659.4 C1479.6,663.8 1480.9,674.5 1482.4,678.6 C1483.9,682.7 1485.4,684.4 1486.9,683.7 C1488.4,683.0 1489.7,676.8 1491.3,674.2 C1492.9,671.6 1494.7,667.8 1496.4,668.3 C1498.1,668.8 1499.3,675.0 1501.6,677.1 C1503.9,679.2 1508.2,682.5 1510.4,680.8 C1512.6,679.1 1513.3,672.8 1514.8,666.8 C1516.3,660.8 1517.8,650.0 1519.2,644.7 C1520.6,639.4 1521.4,635.7 1522.9,635.2 C1524.4,634.7 1525.8,640.2 1528.1,641.8 C1530.4,643.4 1534.0,642.7 1536.9,644.7 C1539.8,646.7 1542.8,653.4 1545.7,653.6 C1548.7,653.9 1552.1,645.7 1554.6,646.2 C1557.1,646.7 1558.3,654.0 1560.5,656.5 C1562.7,659.0 1565.8,657.9 1567.8,660.9 C1569.8,663.9 1571.0,668.3 1572.2,674.2 C1573.4,680.1 1574.0,688.9 1575.2,696.2 C1576.4,703.6 1578.1,714.4 1579.6,718.3 C1581.1,722.2 1582.2,721.3 1584.0,719.8 C1585.8,718.3 1588.6,709.2 1590.6,709.5 C1592.6,709.8 1593.9,717.9 1595.8,721.3 C1597.7,724.7 1599.0,728.9 1601.7,730.1 C1604.4,731.3 1608.8,728.4 1612.0,728.6 C1615.2,728.9 1617.9,729.9 1620.8,731.6 C1623.7,733.3 1625.9,737.9 1629.6,738.9 C1633.3,739.9 1639.0,739.7 1642.9,737.5 C1646.8,735.3 1650.0,728.9 1653.2,725.7 C1656.4,722.5 1660.0,720.8 1662.0,718.3 C1664.0,715.8 1663.8,714.7 1665.0,711.0 C1666.2,707.3 1667.9,701.6 1669.4,696.2 C1670.9,690.8 1672.3,684.7 1673.8,678.6 C1675.3,672.5 1677.1,666.5 1678.2,659.4 C1679.3,652.3 1679.5,646.0 1680.5,636.0 C1681.5,626.0 1682.8,608.4 1684.4,599.3 C1686.0,590.2 1688.3,586.3 1690.3,581.6 C1692.3,576.9 1694.5,569.6 1696.2,571.3 C1697.9,573.0 1699.1,585.5 1700.6,591.9 C1702.1,598.3 1703.5,612.0 1705.0,609.6 C1706.5,607.2 1708.2,588.7 1709.4,577.2 C1710.6,565.7 1711.2,550.7 1712.4,540.4 C1713.6,530.1 1715.1,523.2 1716.8,515.4 C1718.5,507.5 1720.2,498.0 1722.7,493.3 C1725.2,488.6 1728.3,490.1 1731.5,487.4 C1734.7,484.7 1738.1,477.6 1741.8,477.1 C1745.5,476.6 1750.2,481.3 1753.6,484.5 C1757.0,487.7 1760.0,490.6 1762.4,496.2 C1764.9,501.8 1766.1,509.7 1768.3,518.3 C1770.5,526.9 1773.2,538.0 1775.7,547.8 C1778.2,557.6 1780.8,566.7 1783.0,577.2 C1785.2,587.8 1786.4,603.5 1788.9,611.1 C1791.4,618.7 1795.3,619.8 1797.8,622.9 C1800.3,626.0 1802.4,626.3 1803.7,630.0 C1805.0,633.7 1804.8,640.1 1805.8,645.0 C1806.8,649.9 1807.4,657.7 1809.5,659.4 C1811.6,661.1 1815.7,654.2 1818.4,655.0 C1821.1,655.8 1823.5,660.0 1825.7,663.9 C1827.9,667.8 1829.4,675.9 1831.6,678.6 C1833.8,681.3 1835.6,680.4 1839.0,680.1 C1842.4,679.9 1848.9,676.6 1852.2,677.1 C1855.5,677.6 1856.9,684.2 1858.9,683.0 C1860.9,681.8 1862.2,672.7 1864.0,669.7 C1865.8,666.8 1867.7,665.8 1869.9,665.3 C1872.1,664.8 1875.1,668.0 1877.3,666.8 C1879.5,665.6 1880.8,661.0 1883.2,658.0 C1885.7,655.0 1889.1,652.6 1892.0,649.1 C1894.9,645.6 1898.1,638.7 1900.8,637.0 C1903.5,635.3 1905.8,637.7 1908.2,638.8 C1910.7,639.9 1913.3,644.2 1915.5,643.5 C1917.7,642.8 1919.2,638.3 1921.4,634.6 C1923.6,630.9 1926.6,622.6 1928.8,621.4 C1931.0,620.2 1933.7,626.3 1934.7,627.3" stroke="#008080" stroke-width="4.6" fill="none" stroke-linejoin="round" stroke-linecap="round"/>
<path d="M278.6,805.7 C285.3,804.4 305.6,800.4 318.9,797.9 C332.1,795.4 345.0,793.0 358.1,791.0 C371.2,789.0 386.6,786.9 397.4,786.1 C408.2,785.3 416.4,785.1 422.9,786.1 C429.4,787.1 431.7,788.4 436.6,792.0 C441.5,795.6 447.1,801.8 452.3,807.7 C457.5,813.6 462.4,821.4 468.0,827.3 C473.6,833.2 477.8,838.4 485.7,843.0 C493.6,847.6 503.8,852.2 515.2,854.8 C526.7,857.4 541.3,858.4 554.4,858.7 C567.5,859.0 582.8,858.0 593.7,856.7 C604.6,855.4 611.9,853.8 620.0,851.0 C628.1,848.2 635.7,843.7 642.5,840.0 C649.3,836.3 654.2,833.1 660.6,828.9 C667.0,824.7 674.1,819.7 680.8,814.8 C687.5,809.9 693.3,804.5 700.9,799.7 C708.5,794.9 720.3,788.4 726.5,785.9 C732.7,783.4 734.8,784.6 738.0,785.0 C741.2,785.4 742.6,784.9 745.9,788.0 C749.2,791.1 754.2,798.9 757.8,803.8 C761.4,808.7 763.7,814.4 767.6,817.5 C771.5,820.6 776.4,822.7 781.3,822.4 C786.2,822.1 792.4,818.9 797.0,815.5 C801.6,812.1 805.5,806.7 808.8,801.8 C812.1,796.9 813.3,791.0 816.6,786.1 C819.9,781.2 823.5,776.7 828.4,772.3 C833.3,767.9 840.5,762.5 846.1,759.6 C851.7,756.7 854.3,758.5 861.8,754.7 C869.3,750.9 881.7,742.6 891.2,737.0 C900.7,731.4 911.2,725.4 918.7,721.3 C926.2,717.2 929.9,715.1 936.4,712.5 C942.9,709.9 948.5,710.4 958.0,705.6 C967.5,700.9 983.0,689.9 993.3,684.0 C1003.6,678.1 1012.9,674.5 1020.0,670.3 C1027.1,666.0 1031.8,660.3 1035.7,658.5 C1039.6,656.7 1040.3,661.3 1043.6,659.5 C1046.9,657.7 1049.4,651.1 1055.3,647.7 C1061.2,644.3 1070.4,642.0 1078.9,638.9 C1087.4,635.8 1096.9,630.2 1106.4,629.1 C1115.9,628.0 1127.3,634.3 1135.8,632.0 C1144.3,629.7 1149.6,619.5 1157.4,615.3 C1165.2,611.0 1176.1,609.5 1182.9,606.5 C1189.7,603.5 1194.1,601.0 1198.0,597.0 C1201.9,593.0 1201.8,587.9 1206.5,582.6 C1211.2,577.3 1219.6,570.2 1226.1,565.0 C1232.6,559.8 1239.2,554.8 1245.7,551.2 C1252.2,547.6 1259.4,544.9 1265.3,543.4 C1271.2,541.9 1276.7,541.1 1281.0,542.4 C1285.3,543.7 1288.0,546.5 1290.9,551.2 C1293.9,556.0 1296.4,562.8 1298.7,570.9 C1301.0,579.0 1303.0,592.9 1305.0,600.0 C1307.0,607.1 1308.1,609.9 1310.5,613.4 C1312.9,616.9 1316.7,621.5 1319.3,621.2 C1321.9,620.9 1323.4,612.9 1326.2,611.4 C1329.0,609.9 1333.4,610.4 1336.0,612.4 C1338.6,614.4 1339.9,616.2 1341.9,623.2 C1343.9,630.2 1345.8,644.8 1347.8,654.6 C1349.8,664.4 1351.4,673.3 1353.7,682.1 C1356.0,690.9 1358.6,698.5 1361.5,707.6 C1364.4,716.8 1367.9,729.8 1371.3,737.0 C1374.7,744.2 1379.5,752.4 1382.1,750.8 C1384.7,749.2 1385.2,741.0 1387.0,727.2 C1388.8,713.5 1390.7,685.2 1392.9,668.3 C1395.2,651.4 1398.3,635.5 1400.5,626.0 C1402.7,616.5 1404.2,614.1 1405.9,611.1 C1407.7,608.1 1409.3,606.4 1411.0,608.1 C1412.7,609.8 1415.0,612.8 1416.2,621.4 C1417.4,630.0 1417.3,648.8 1418.0,660.0 C1418.7,671.2 1419.4,681.6 1420.6,688.9 C1421.8,696.2 1423.7,703.6 1425.0,703.6 C1426.3,703.6 1427.5,693.6 1428.7,688.9 C1429.9,684.2 1431.3,675.6 1432.4,675.6 C1433.5,675.6 1434.3,681.8 1435.3,688.9 C1436.3,696.0 1437.3,708.5 1438.3,718.3 C1439.3,728.1 1440.2,738.5 1441.2,747.8 C1442.2,757.1 1443.2,769.1 1444.2,774.3 C1445.2,779.4 1445.6,778.7 1447.1,778.7 C1448.6,778.7 1451.3,772.6 1453.0,774.3 C1454.7,776.0 1456.1,785.6 1457.4,789.0 C1458.8,792.4 1459.9,795.9 1461.1,794.9 C1462.3,793.9 1463.7,787.3 1464.8,783.1 C1465.9,778.9 1466.3,773.0 1467.7,769.8 C1469.1,766.6 1471.2,763.8 1472.9,764.0 C1474.6,764.2 1476.4,766.6 1478.0,771.3 C1479.6,775.9 1481.1,788.0 1482.4,791.9 C1483.8,795.8 1484.6,796.1 1486.1,794.9 C1487.6,793.7 1489.6,787.3 1491.3,784.6 C1493.0,781.9 1494.7,778.0 1496.4,778.7 C1498.1,779.4 1499.3,786.8 1501.6,789.0 C1503.9,791.2 1508.2,793.9 1510.4,791.9 C1512.6,789.9 1513.3,783.3 1514.8,777.2 C1516.3,771.1 1517.8,760.0 1519.2,755.1 C1520.6,750.2 1521.4,747.8 1522.9,747.8 C1524.4,747.8 1525.8,753.4 1528.1,755.1 C1530.4,756.8 1534.0,755.9 1536.9,758.1 C1539.8,760.3 1542.8,767.7 1545.7,768.4 C1548.7,769.1 1552.1,761.3 1554.6,762.5 C1557.1,763.7 1558.3,773.0 1560.5,775.7 C1562.7,778.4 1565.8,774.8 1567.8,778.7 C1569.8,782.6 1570.7,792.2 1572.2,799.3 C1573.7,806.4 1575.2,815.3 1576.7,821.4 C1578.2,827.5 1579.6,834.4 1581.1,836.1 C1582.6,837.8 1583.9,833.7 1585.5,831.7 C1587.1,829.7 1588.9,823.1 1590.6,824.3 C1592.3,825.5 1593.7,835.1 1595.8,839.0 C1597.9,842.9 1600.4,846.9 1603.1,847.9 C1605.8,848.9 1609.0,844.7 1612.0,844.9 C1615.0,845.1 1617.9,847.8 1620.8,849.3 C1623.7,850.8 1625.9,853.3 1629.6,853.8 C1633.3,854.3 1639.0,854.5 1642.9,852.3 C1646.8,850.1 1649.8,844.2 1653.2,840.5 C1656.6,836.8 1660.8,835.8 1663.5,830.2 C1666.2,824.6 1667.7,814.3 1669.4,806.7 C1671.1,799.1 1672.3,793.2 1673.8,784.6 C1675.3,776.0 1676.7,764.9 1678.2,755.1 C1679.7,745.3 1680.9,735.2 1682.6,725.7 C1684.3,716.2 1686.5,705.6 1688.5,698.0 C1690.5,690.4 1693.0,683.2 1694.4,680.0 C1695.8,676.8 1696.0,677.0 1697.0,679.0 C1698.0,681.0 1699.4,686.0 1700.6,691.8 C1701.8,697.6 1702.8,713.9 1704.3,713.9 C1705.8,713.9 1708.3,702.1 1709.4,691.8 C1710.5,681.5 1710.2,663.8 1710.9,652.1 C1711.7,640.4 1712.7,630.2 1713.9,621.4 C1715.1,612.6 1716.6,606.7 1718.3,599.3 C1720.0,591.9 1721.8,582.9 1724.2,577.2 C1726.7,571.6 1730.1,571.3 1733.0,565.4 C1735.9,559.5 1738.1,546.8 1741.8,541.9 C1745.5,537.0 1751.7,535.5 1755.1,536.0 C1758.5,536.5 1760.4,539.1 1762.4,544.8 C1764.4,550.4 1765.4,562.0 1766.9,569.9 C1768.4,577.8 1769.6,584.5 1771.3,591.9 C1773.0,599.2 1775.5,606.0 1777.2,614.0 C1778.9,622.0 1780.5,632.4 1781.5,640.0 C1782.5,647.6 1782.3,651.8 1783.5,659.4 C1784.7,667.0 1786.5,680.2 1788.9,685.9 C1791.3,691.5 1795.6,690.3 1797.8,693.3 C1800.0,696.2 1801.0,698.2 1802.2,703.6 C1803.4,709.0 1804.1,719.6 1805.1,725.7 C1806.1,731.8 1806.9,737.2 1808.1,740.4 C1809.3,743.6 1810.8,745.5 1812.5,744.8 C1814.2,744.1 1816.7,736.7 1818.4,736.0 C1820.1,735.3 1821.3,737.2 1822.8,740.4 C1824.3,743.6 1825.7,750.0 1827.2,755.1 C1828.7,760.2 1830.1,767.9 1831.6,771.3 C1833.1,774.7 1834.3,775.7 1836.0,775.7 C1837.7,775.7 1839.2,772.8 1841.9,771.3 C1844.6,769.8 1849.4,765.9 1852.2,766.9 C1855.0,767.9 1856.9,778.7 1858.9,777.2 C1860.9,775.7 1862.4,762.5 1864.0,758.1 C1865.6,753.7 1866.2,751.4 1868.4,750.7 C1870.6,750.0 1875.1,755.2 1877.3,753.7 C1879.5,752.2 1879.8,745.8 1881.7,741.9 C1883.7,738.0 1886.8,733.5 1889.0,730.1 C1891.2,726.7 1892.9,724.7 1894.9,721.3 C1896.9,717.9 1899.1,710.7 1900.8,709.5 C1902.5,708.3 1903.7,713.9 1905.2,713.9 C1906.7,713.9 1908.0,709.2 1909.7,709.5 C1911.4,709.8 1913.5,716.9 1915.5,715.4 C1917.5,713.9 1919.7,706.1 1921.4,700.7 C1923.1,695.3 1924.3,687.4 1925.8,683.0 C1927.3,678.6 1928.8,673.0 1930.3,674.2 C1931.8,675.4 1934.0,687.7 1934.7,690.4" stroke="#ff00ff" stroke-width="4.6" fill="none" stroke-linejoin="round" stroke-linecap="round"/>
<path d="M278.6,918.9 C285.3,917.6 305.6,913.5 318.9,911.0 C332.1,908.5 345.0,906.2 358.1,904.2 C371.2,902.2 386.6,900.0 397.4,899.3 C408.2,898.6 416.4,898.6 422.9,900.2 C429.4,901.8 431.7,904.7 436.6,909.1 C441.5,913.5 447.1,920.5 452.3,926.7 C457.5,932.9 462.4,940.5 468.0,946.4 C473.6,952.3 477.8,957.5 485.7,962.1 C493.6,966.7 503.8,971.2 515.2,973.8 C526.7,976.4 543.6,977.3 554.4,977.8 C565.2,978.3 572.5,977.5 580.1,977.0 C587.8,976.5 593.6,975.6 600.3,974.5 C607.0,973.4 613.7,972.6 620.4,970.4 C627.1,968.2 633.8,964.8 640.5,961.4 C647.2,958.0 653.9,954.3 660.6,950.3 C667.3,946.3 674.1,941.9 680.8,937.2 C687.5,932.5 694.4,927.3 700.9,922.1 C707.4,916.9 713.8,909.0 720.0,906.0 C726.2,903.0 733.4,903.4 738.1,904.2 C742.8,905.0 744.7,907.9 748.0,911.0 C751.3,914.1 754.5,918.5 757.8,922.8 C761.1,927.0 763.7,933.5 767.6,936.5 C771.5,939.5 776.4,941.1 781.3,940.5 C786.2,939.9 792.4,935.9 797.0,932.6 C801.6,929.3 805.5,925.7 808.8,920.8 C812.1,915.9 813.3,908.4 816.6,903.2 C819.9,898.0 823.2,893.8 828.4,889.4 C833.6,885.0 841.8,880.4 848.0,877.0 C854.2,873.6 857.8,873.4 865.7,869.0 C873.6,864.6 885.7,856.9 895.2,850.9 C904.7,844.9 915.4,837.3 922.6,833.2 C929.8,829.1 931.8,828.9 938.3,826.3 C944.8,823.7 952.7,822.2 961.9,817.5 C971.1,812.8 983.5,804.3 993.3,797.9 C1003.0,791.5 1013.3,783.9 1020.4,779.0 C1027.5,774.1 1031.8,770.0 1035.7,768.4 C1039.6,766.8 1040.3,771.2 1043.6,769.4 C1046.9,767.6 1049.4,760.9 1055.3,757.6 C1061.2,754.3 1070.1,753.1 1078.9,749.8 C1087.7,746.5 1099.8,739.5 1108.3,738.0 C1116.8,736.5 1123.0,741.5 1129.9,740.9 C1136.8,740.2 1145.6,736.4 1149.5,734.1 C1153.4,731.8 1149.5,730.6 1153.5,727.2 C1158.1,723.8 1169.2,718.4 1177.0,713.5 C1184.8,708.6 1195.4,702.0 1200.6,697.8 C1205.8,693.5 1204.2,692.1 1208.4,688.0 C1212.7,683.9 1220.9,678.1 1226.1,673.2 C1231.3,668.3 1234.9,662.6 1239.8,658.5 C1244.7,654.4 1249.6,651.0 1255.5,648.7 C1261.4,646.4 1270.0,644.8 1275.2,644.8 C1280.4,644.8 1283.6,645.8 1286.9,648.7 C1290.2,651.6 1292.5,655.9 1294.8,662.4 C1297.1,668.9 1298.7,678.8 1300.7,688.0 C1302.7,697.2 1303.7,709.5 1306.6,717.4 C1309.5,725.2 1314.4,732.5 1318.3,735.1 C1322.2,737.7 1326.8,732.5 1330.1,733.1 C1333.4,733.8 1335.4,733.4 1338.0,739.0 C1340.6,744.6 1343.2,755.4 1345.8,766.5 C1348.4,777.6 1350.4,791.6 1353.7,805.7 C1357.0,819.8 1360.5,839.4 1365.4,850.9 C1370.3,862.4 1379.2,876.0 1383.1,875.0 C1387.0,874.0 1387.0,859.8 1389.0,845.0 C1391.0,830.2 1393.0,801.9 1394.9,786.1 C1396.8,770.3 1398.9,758.9 1400.5,750.0 C1402.1,741.1 1402.9,737.0 1404.4,733.0 C1405.9,729.0 1407.9,725.2 1409.6,725.7 C1411.3,726.2 1413.3,729.9 1414.7,736.0 C1416.1,742.1 1416.7,752.0 1417.7,762.5 C1418.7,773.0 1419.2,789.5 1420.6,799.3 C1421.9,809.1 1424.3,820.2 1425.8,821.4 C1427.3,822.6 1428.3,810.4 1429.4,806.7 C1430.5,803.0 1431.3,798.1 1432.4,799.3 C1433.5,800.5 1434.9,805.5 1436.1,814.0 C1437.3,822.5 1438.6,836.3 1439.7,850.0 C1440.8,863.7 1441.5,887.9 1442.7,896.2 C1443.9,904.5 1445.4,899.6 1447.1,899.9 C1448.8,900.1 1451.4,895.9 1453.0,897.7 C1454.6,899.6 1455.5,907.8 1456.7,911.0 C1457.9,914.2 1459.1,918.1 1460.4,916.9 C1461.8,915.7 1463.6,907.8 1464.8,903.6 C1466.0,899.4 1466.3,894.9 1467.7,891.8 C1469.1,888.7 1471.2,885.2 1472.9,885.2 C1474.6,885.2 1476.4,887.3 1478.0,891.8 C1479.6,896.3 1480.9,908.2 1482.4,912.4 C1483.9,916.6 1485.4,917.6 1486.9,916.9 C1488.4,916.2 1489.7,910.5 1491.3,908.0 C1492.9,905.5 1494.7,901.6 1496.4,902.1 C1498.1,902.6 1499.3,908.8 1501.6,911.0 C1503.9,913.2 1508.2,917.1 1510.4,915.4 C1512.6,913.7 1513.3,906.8 1514.8,900.7 C1516.3,894.6 1517.8,884.0 1519.2,878.6 C1520.6,873.2 1521.4,869.0 1522.9,868.3 C1524.4,867.6 1525.8,872.5 1528.1,874.2 C1530.4,875.9 1534.0,876.2 1536.9,878.6 C1539.8,881.0 1542.8,887.7 1545.7,888.9 C1548.7,890.1 1552.1,884.4 1554.6,885.9 C1557.1,887.4 1558.3,895.0 1560.5,897.7 C1562.7,900.4 1565.8,898.7 1567.8,902.1 C1569.8,905.5 1570.7,911.9 1572.2,918.3 C1573.7,924.7 1575.2,934.0 1576.7,940.4 C1578.2,946.8 1579.6,954.6 1581.1,956.6 C1582.6,958.6 1583.9,954.2 1585.5,952.2 C1587.1,950.2 1588.9,943.8 1590.6,944.8 C1592.3,945.8 1593.7,954.4 1595.8,958.1 C1597.9,961.8 1600.4,965.9 1603.1,966.9 C1605.8,967.9 1609.0,963.8 1612.0,964.0 C1615.0,964.2 1617.9,966.7 1620.8,968.4 C1623.7,970.1 1625.9,973.6 1629.6,974.3 C1633.3,975.0 1639.0,974.8 1642.9,972.8 C1646.8,970.8 1649.8,965.9 1653.2,962.5 C1656.6,959.1 1661.0,956.6 1663.5,952.2 C1666.0,947.8 1666.2,941.6 1667.9,936.0 C1669.6,930.4 1672.1,926.1 1673.8,918.3 C1675.5,910.4 1676.7,898.3 1678.2,888.9 C1679.7,879.5 1681.4,871.5 1682.6,862.0 C1683.8,852.5 1684.2,840.0 1685.5,832.0 C1686.8,824.0 1688.5,818.4 1690.3,814.0 C1692.1,809.6 1694.5,804.3 1696.2,805.5 C1697.9,806.7 1699.2,815.6 1700.6,821.4 C1701.9,827.2 1702.8,841.7 1704.3,840.5 C1705.8,839.3 1708.3,824.5 1709.4,814.0 C1710.5,803.5 1709.9,788.2 1710.9,777.2 C1711.9,766.2 1713.8,756.6 1715.3,747.8 C1716.8,739.0 1718.0,731.1 1719.7,724.2 C1721.4,717.3 1723.1,711.2 1725.6,706.5 C1728.1,701.8 1731.5,701.4 1734.5,696.2 C1737.5,691.1 1740.1,679.6 1743.3,675.6 C1746.5,671.6 1750.4,671.5 1753.6,672.0 C1756.8,672.5 1760.0,674.6 1762.4,678.6 C1764.9,682.6 1766.3,688.4 1768.3,696.2 C1770.3,704.1 1772.2,715.9 1774.2,725.7 C1776.2,735.5 1778.4,745.3 1780.1,755.1 C1781.8,764.9 1783.0,774.8 1784.5,784.6 C1786.0,794.4 1786.7,807.4 1788.9,814.0 C1791.1,820.6 1795.3,820.6 1797.8,824.3 C1800.3,828.0 1802.3,831.3 1803.7,836.1 C1805.1,840.9 1805.3,847.4 1806.0,853.0 C1806.7,858.6 1807.0,866.4 1808.1,869.7 C1809.2,873.0 1810.8,873.4 1812.5,872.7 C1814.2,872.0 1816.4,865.8 1818.4,865.3 C1820.4,864.8 1822.8,866.3 1824.3,869.7 C1825.8,873.1 1826.0,881.0 1827.2,885.9 C1828.4,890.8 1830.1,896.5 1831.6,899.2 C1833.1,901.9 1833.5,902.6 1836.0,902.1 C1838.5,901.6 1843.3,897.2 1846.3,896.2 C1849.2,895.2 1851.6,894.7 1853.7,896.2 C1855.8,897.7 1857.2,906.8 1858.9,905.1 C1860.6,903.4 1862.2,889.8 1864.0,885.9 C1865.8,882.0 1867.5,882.0 1869.9,881.5 C1872.4,881.0 1876.5,884.7 1878.7,883.0 C1880.9,881.3 1881.5,874.4 1883.2,871.2 C1884.9,868.0 1886.5,868.3 1889.0,863.9 C1891.5,859.5 1895.2,848.4 1897.9,844.7 C1900.6,841.0 1902.3,841.3 1905.2,841.8 C1908.1,842.3 1912.8,848.4 1915.5,847.7 C1918.2,847.0 1919.7,841.2 1921.4,837.4 C1923.1,833.6 1924.3,829.1 1925.8,825.0 C1927.3,820.9 1928.8,813.1 1930.3,812.5 C1931.8,811.9 1934.0,819.9 1934.7,821.4" stroke="#808000" stroke-width="4.6" fill="none" stroke-linejoin="round" stroke-linecap="round"/>
<path d="M278.6,1020.0 C285.3,1018.4 305.6,1013.1 318.9,1010.1 C332.1,1007.1 345.0,1004.4 358.1,1002.3 C371.2,1000.2 387.6,997.9 397.4,997.4 C407.2,996.9 411.4,997.4 417.0,999.4 C422.6,1001.4 426.9,1005.0 430.8,1009.2 C434.7,1013.5 437.0,1018.4 440.6,1024.9 C444.2,1031.4 448.4,1041.2 452.3,1048.4 C456.2,1055.6 460.2,1062.1 464.1,1068.0 C468.0,1073.9 470.7,1078.9 475.9,1083.8 C481.1,1088.7 488.9,1093.6 495.5,1097.5 C502.1,1101.4 505.4,1105.0 515.2,1107.3 C525.0,1109.6 541.3,1111.2 554.4,1111.2 C567.5,1111.2 582.2,1109.2 593.7,1107.3 C605.2,1105.3 615.4,1102.1 623.1,1099.5 C630.8,1096.9 633.9,1095.5 640.0,1091.6 C646.1,1087.7 653.6,1081.3 659.6,1076.0 C665.6,1070.7 669.7,1066.0 675.7,1060.0 C681.7,1054.0 688.3,1047.2 695.8,1039.9 C703.2,1032.7 714.9,1021.2 720.4,1016.5 C725.9,1011.8 726.2,1012.6 729.0,1011.5 C731.8,1010.4 734.8,1009.7 737.0,1009.6 C739.2,1009.5 740.2,1009.8 742.0,1011.0 C743.8,1012.2 746.0,1014.0 748.0,1017.0 C750.0,1020.0 751.5,1025.2 753.8,1028.8 C756.1,1032.4 759.1,1034.7 761.7,1038.6 C764.3,1042.5 765.9,1049.3 769.5,1052.3 C773.1,1055.2 778.7,1057.6 783.3,1056.3 C787.9,1055.0 792.8,1048.8 797.0,1044.5 C801.2,1040.2 805.5,1036.7 808.8,1030.8 C812.1,1024.9 813.3,1015.8 816.6,1009.2 C819.9,1002.7 824.1,996.7 828.4,991.5 C832.7,986.3 836.3,981.7 842.2,977.8 C848.1,973.9 856.6,972.6 863.8,968.0 C871.0,963.4 876.8,956.5 885.3,950.3 C893.8,944.1 906.6,935.6 914.8,930.7 C923.0,925.8 926.5,924.6 934.4,920.8 C942.2,917.0 952.1,913.5 961.9,908.1 C971.7,902.7 983.5,894.9 993.3,888.5 C1003.0,882.1 1013.3,874.5 1020.4,870.0 C1027.5,865.5 1031.8,862.2 1035.7,861.6 C1039.6,861.0 1040.3,868.1 1043.6,866.6 C1046.9,865.1 1049.4,856.1 1055.3,852.8 C1061.2,849.5 1070.4,849.3 1078.9,846.9 C1087.4,844.5 1097.2,839.1 1106.4,838.1 C1115.6,837.1 1126.0,841.6 1133.8,841.0 C1141.6,840.4 1149.2,834.5 1153.5,834.2 C1157.8,833.9 1157.0,836.5 1159.4,839.1 C1161.9,841.7 1165.3,849.9 1168.2,849.9 C1171.1,849.9 1173.6,845.5 1177.0,839.1 C1180.4,832.7 1183.9,819.1 1188.8,811.6 C1193.7,804.1 1200.6,798.8 1206.5,793.9 C1212.4,789.0 1218.2,786.8 1224.1,782.2 C1230.0,777.6 1235.9,770.4 1241.8,766.5 C1247.7,762.6 1253.3,760.2 1259.5,758.6 C1265.7,757.0 1273.9,755.6 1279.1,756.6 C1284.3,757.6 1287.6,761.2 1290.9,764.5 C1294.2,767.8 1296.4,769.4 1298.7,776.3 C1301.0,783.2 1302.3,797.5 1304.6,805.7 C1306.9,813.9 1309.8,821.0 1312.4,825.3 C1315.0,829.5 1317.3,829.6 1320.3,831.2 C1323.2,832.9 1327.1,831.9 1330.1,835.2 C1333.0,838.5 1335.7,843.5 1338.0,850.9 C1340.3,858.3 1342.5,871.8 1343.8,879.9 C1345.1,888.0 1344.1,887.9 1345.8,899.3 C1347.5,910.7 1350.4,934.6 1353.7,948.3 C1357.0,962.0 1360.5,974.2 1365.4,981.7 C1370.3,989.2 1379.2,997.4 1383.1,993.5 C1387.0,989.6 1387.0,972.2 1389.0,958.1 C1391.0,944.0 1393.0,924.1 1394.9,909.1 C1396.8,894.1 1398.8,878.2 1400.5,868.0 C1402.2,857.8 1403.4,852.6 1405.0,848.0 C1406.6,843.4 1408.5,840.3 1410.3,840.3 C1412.0,840.2 1414.0,840.8 1415.5,847.7 C1417.0,854.6 1418.0,871.0 1419.1,881.5 C1420.2,892.0 1421.0,903.1 1422.1,911.0 C1423.2,918.9 1424.6,928.6 1425.8,928.6 C1427.0,928.6 1428.3,915.4 1429.4,911.0 C1430.5,906.6 1431.3,900.9 1432.4,902.1 C1433.5,903.3 1435.1,910.7 1436.1,918.3 C1437.1,925.9 1437.4,936.8 1438.3,947.8 C1439.2,958.8 1440.2,974.8 1441.2,984.6 C1442.2,994.4 1443.2,1002.3 1444.2,1006.7 C1445.2,1011.1 1445.6,1011.1 1447.1,1011.1 C1448.6,1011.1 1451.3,1004.5 1453.0,1006.7 C1454.7,1008.9 1456.1,1020.1 1457.4,1024.3 C1458.8,1028.5 1459.9,1032.7 1461.1,1031.7 C1462.3,1030.7 1463.7,1023.3 1464.8,1018.4 C1465.9,1013.5 1466.3,1006.0 1467.7,1002.2 C1469.1,998.4 1471.2,995.6 1472.9,995.6 C1474.6,995.6 1476.4,997.4 1478.0,1002.2 C1479.6,1007.0 1480.9,1019.6 1482.4,1024.3 C1483.9,1029.0 1485.4,1030.7 1486.9,1030.2 C1488.4,1029.7 1489.7,1024.1 1491.3,1021.4 C1492.9,1018.7 1494.7,1013.5 1496.4,1014.0 C1498.1,1014.5 1499.3,1021.8 1501.6,1024.3 C1503.9,1026.8 1508.2,1030.4 1510.4,1028.7 C1512.6,1027.0 1513.3,1020.6 1514.8,1014.0 C1516.3,1007.4 1517.8,994.9 1519.2,989.0 C1520.6,983.1 1521.4,979.4 1522.9,978.7 C1524.4,978.0 1525.8,982.9 1528.1,984.6 C1530.4,986.3 1534.0,986.8 1536.9,989.0 C1539.8,991.2 1542.8,997.1 1545.7,997.8 C1548.7,998.5 1552.1,991.9 1554.6,993.4 C1557.1,994.9 1558.3,1004.0 1560.5,1006.7 C1562.7,1009.4 1565.8,1007.2 1567.8,1009.6 C1569.8,1012.0 1571.0,1014.3 1572.2,1021.4 C1573.4,1028.5 1574.2,1044.5 1575.2,1052.1 C1576.2,1059.7 1576.9,1061.9 1578.1,1066.8 C1579.3,1071.7 1581.0,1080.3 1582.5,1081.5 C1584.0,1082.7 1585.7,1076.7 1587.0,1074.2 C1588.3,1071.8 1589.4,1066.8 1590.6,1066.8 C1591.8,1066.8 1593.2,1070.5 1594.3,1074.2 C1595.4,1077.9 1595.6,1085.2 1597.3,1088.9 C1599.0,1092.6 1602.1,1095.7 1604.6,1096.2 C1607.0,1096.7 1609.5,1091.8 1612.0,1091.8 C1614.5,1091.8 1616.4,1093.8 1619.3,1096.2 C1622.2,1098.7 1626.9,1105.5 1629.6,1106.5 C1632.3,1107.5 1633.3,1102.8 1635.5,1102.1 C1637.7,1101.4 1640.4,1103.3 1642.9,1102.1 C1645.4,1100.9 1648.1,1098.0 1650.3,1094.8 C1652.5,1091.6 1653.9,1086.4 1656.1,1083.0 C1658.3,1079.6 1661.8,1078.1 1663.5,1074.2 C1665.2,1070.3 1665.3,1064.3 1666.5,1059.4 C1667.7,1054.5 1669.6,1050.4 1670.9,1044.7 C1672.2,1039.0 1673.4,1032.5 1674.5,1025.0 C1675.6,1017.5 1676.4,1009.2 1677.5,1000.0 C1678.6,990.8 1679.8,981.1 1681.2,969.9 C1682.6,958.7 1684.4,941.6 1685.9,933.0 C1687.4,924.4 1688.7,922.5 1690.3,918.3 C1691.9,914.1 1694.0,908.0 1695.5,908.0 C1697.0,908.0 1697.6,911.4 1699.1,918.3 C1700.6,925.2 1702.6,948.0 1704.3,949.2 C1706.0,950.4 1708.3,934.5 1709.4,925.7 C1710.5,916.9 1709.9,906.8 1710.9,896.2 C1711.9,885.6 1713.6,871.7 1715.3,862.0 C1717.0,852.3 1719.0,843.3 1721.2,838.0 C1723.4,832.7 1725.2,832.4 1728.6,830.2 C1732.0,828.0 1737.6,824.5 1741.8,825.0 C1746.0,825.5 1750.2,830.2 1753.6,833.5 C1757.0,836.8 1760.0,840.0 1762.4,844.8 C1764.9,849.6 1766.1,855.0 1768.3,862.4 C1770.5,869.8 1773.5,879.6 1775.7,888.9 C1777.9,898.2 1779.9,908.5 1781.6,918.3 C1783.3,928.1 1784.3,940.2 1786.0,947.8 C1787.7,955.4 1789.5,960.1 1791.9,964.0 C1794.4,967.9 1798.5,966.6 1800.7,971.3 C1802.9,975.9 1803.6,986.2 1805.1,991.9 C1806.6,997.5 1807.3,1003.5 1809.5,1005.2 C1811.7,1006.9 1815.7,1000.7 1818.4,1002.2 C1821.1,1003.7 1823.5,1009.3 1825.7,1014.0 C1827.9,1018.7 1829.9,1027.2 1831.6,1030.2 C1833.3,1033.2 1832.6,1032.2 1836.0,1031.7 C1839.4,1031.2 1848.4,1026.8 1852.2,1027.3 C1856.0,1027.8 1856.7,1036.6 1858.9,1034.6 C1861.1,1032.6 1862.4,1018.7 1865.5,1015.5 C1868.6,1012.3 1874.3,1017.5 1877.3,1015.5 C1880.2,1013.5 1881.0,1006.9 1883.2,1003.7 C1885.4,1000.5 1887.6,1000.2 1890.5,996.3 C1893.4,992.4 1896.6,981.9 1900.8,980.2 C1905.0,978.5 1912.1,987.0 1915.5,986.0 C1918.9,985.0 1919.7,978.7 1921.4,974.3 C1923.1,969.9 1924.5,962.7 1925.8,959.5 C1927.1,956.3 1928.0,953.9 1929.5,955.1 C1931.0,956.3 1933.8,964.9 1934.7,966.9" stroke="#000080" stroke-width="4.6" fill="none" stroke-linejoin="round" stroke-linecap="round"/>
<path d="M288.0,1073.0 C293.1,1072.3 307.2,1070.0 318.9,1069.0 C330.6,1068.0 346.7,1067.8 358.1,1067.1 C369.6,1066.4 379.4,1065.3 387.6,1065.1 C395.8,1064.9 401.0,1065.4 407.2,1066.1 C413.4,1066.8 420.6,1066.7 424.9,1069.0 C429.1,1071.3 430.1,1075.0 432.7,1079.8 C435.3,1084.5 438.2,1093.6 440.6,1097.5 C443.1,1101.4 444.8,1104.4 447.4,1103.4 C450.0,1102.4 453.2,1095.7 456.3,1091.6 C459.4,1087.5 463.5,1081.1 466.1,1078.8 C468.7,1076.5 469.7,1076.8 472.0,1077.9 C474.3,1079.1 477.2,1084.1 479.8,1085.7 C482.4,1087.3 485.1,1088.0 487.7,1087.7 C490.3,1087.4 492.9,1083.8 495.5,1083.8 C498.1,1083.8 500.8,1084.8 503.4,1087.7 C506.0,1090.6 508.9,1097.3 511.2,1101.4 C513.5,1105.5 514.8,1111.9 517.1,1112.2 C519.4,1112.5 522.0,1108.5 525.0,1103.4 C528.0,1098.3 531.5,1086.9 534.8,1081.8 C538.1,1076.7 539.7,1074.8 544.6,1073.0 C549.5,1071.2 552.8,1071.5 564.2,1071.0 C575.7,1070.5 600.7,1069.6 613.3,1070.0 C625.9,1070.4 625.7,1072.5 640.0,1073.5 C654.3,1074.5 685.2,1074.4 698.9,1075.7 C712.6,1077.0 716.8,1078.6 722.4,1081.6 C728.0,1084.5 729.6,1087.2 732.2,1093.4 C734.8,1099.6 736.5,1108.1 738.1,1118.9 C739.8,1129.7 740.8,1143.4 742.1,1158.1 C743.4,1172.8 744.5,1194.8 746.0,1207.2 C747.5,1219.6 749.3,1231.7 750.9,1232.7 C752.5,1233.7 754.5,1222.2 755.8,1213.1 C757.1,1203.9 757.6,1185.3 758.7,1177.8 C759.9,1170.3 761.2,1168.0 762.7,1168.0 C764.2,1168.0 766.1,1171.6 767.6,1177.8 C769.1,1184.0 770.4,1199.0 771.5,1205.2 C772.6,1211.4 773.2,1216.4 774.4,1215.1 C775.5,1213.8 777.2,1207.6 778.4,1197.4 C779.5,1187.2 780.2,1166.0 781.3,1154.2 C782.4,1142.4 782.9,1133.1 785.2,1126.7 C787.5,1120.3 792.2,1115.6 795.1,1115.9 C798.0,1116.2 801.0,1128.5 802.9,1128.7 C804.8,1128.9 805.6,1123.5 806.8,1116.9 C807.9,1110.4 807.8,1095.3 809.8,1089.4 C811.8,1083.5 815.5,1082.7 818.6,1081.6 C821.7,1080.5 823.8,1084.6 828.4,1082.6 C833.0,1080.6 838.2,1072.1 846.1,1069.8 C854.0,1067.5 864.4,1067.8 875.5,1068.8 C886.6,1069.8 903.0,1075.2 912.8,1075.7 C922.6,1076.2 925.9,1072.6 934.4,1071.8 C942.9,1071.0 954.0,1071.3 963.8,1070.8 C973.6,1070.3 986.4,1068.8 993.3,1068.8 C1000.2,1068.8 1000.2,1069.0 1005.1,1070.8 C1010.0,1072.6 1016.3,1079.4 1022.7,1079.6 C1029.1,1079.8 1036.8,1073.3 1043.6,1072.0 C1050.3,1070.7 1057.3,1072.7 1063.2,1072.0 C1069.1,1071.3 1073.0,1069.2 1078.9,1068.0 C1084.8,1066.8 1092.3,1066.2 1098.5,1065.1 C1104.7,1064.0 1110.0,1061.2 1116.2,1061.2 C1122.4,1061.2 1130.2,1063.1 1135.8,1065.1 C1141.3,1067.1 1145.6,1071.5 1149.5,1073.0 C1153.4,1074.5 1156.0,1072.9 1159.4,1073.9 C1162.8,1074.9 1166.5,1079.1 1170.1,1078.8 C1173.7,1078.5 1177.0,1074.9 1180.9,1072.0 C1184.8,1069.1 1189.4,1061.7 1193.7,1061.2 C1198.0,1060.7 1203.1,1067.4 1206.5,1069.0 C1209.9,1070.6 1211.4,1069.8 1214.3,1071.0 C1217.2,1072.2 1220.2,1076.6 1224.1,1075.9 C1228.0,1075.2 1233.3,1067.8 1237.9,1067.1 C1242.5,1066.4 1247.3,1070.5 1251.6,1072.0 C1255.8,1073.5 1259.8,1073.6 1263.4,1075.9 C1267.0,1078.2 1270.6,1081.8 1273.2,1085.7 C1275.8,1089.6 1277.2,1092.2 1279.1,1099.5 C1281.0,1106.8 1282.2,1117.9 1284.8,1129.4 C1287.4,1140.9 1291.7,1155.6 1294.6,1168.7 C1297.5,1181.8 1300.4,1193.9 1302.4,1208.0 C1304.4,1222.1 1304.8,1243.8 1306.4,1253.1 C1308.0,1262.4 1308.9,1262.1 1312.2,1263.9 C1315.5,1265.7 1322.7,1267.7 1326.0,1263.9 C1329.3,1260.1 1329.6,1252.3 1331.9,1241.3 C1334.2,1230.3 1337.1,1213.5 1339.7,1198.1 C1342.3,1182.7 1345.3,1161.5 1347.6,1149.1 C1349.9,1136.7 1350.9,1130.8 1353.5,1123.6 C1356.1,1116.4 1360.0,1109.7 1363.3,1105.9 C1366.6,1102.1 1370.2,1101.5 1373.1,1101.0 C1376.0,1100.5 1377.9,1105.1 1380.9,1102.9 C1383.9,1100.7 1387.8,1091.0 1391.0,1087.7 C1394.2,1084.4 1397.0,1084.2 1400.0,1083.0 C1403.0,1081.8 1405.8,1080.3 1408.8,1080.8 C1411.8,1081.3 1414.8,1083.8 1417.7,1085.9 C1420.7,1088.0 1423.3,1091.1 1426.5,1093.3 C1429.7,1095.5 1433.8,1096.8 1436.8,1099.2 C1439.8,1101.7 1442.5,1103.6 1444.2,1108.0 C1445.9,1112.4 1446.1,1116.6 1447.1,1125.7 C1448.1,1134.8 1449.1,1149.0 1450.1,1162.5 C1451.1,1176.0 1452.0,1194.4 1453.0,1206.7 C1454.0,1219.0 1454.9,1227.7 1455.9,1236.1 C1456.9,1244.5 1457.9,1255.8 1458.9,1257.0 C1459.9,1258.2 1460.8,1251.9 1461.8,1243.5 C1462.8,1235.1 1463.9,1219.0 1464.8,1206.7 C1465.7,1194.4 1466.3,1179.7 1467.0,1169.9 C1467.7,1160.1 1468.4,1154.0 1469.2,1147.8 C1470.0,1141.6 1471.0,1136.2 1472.1,1133.0 C1473.2,1129.8 1474.4,1128.1 1475.8,1128.6 C1477.2,1129.1 1479.1,1131.6 1480.2,1136.0 C1481.3,1140.4 1481.5,1145.8 1482.4,1155.1 C1483.3,1164.4 1484.4,1179.6 1485.4,1191.9 C1486.4,1204.2 1487.3,1218.9 1488.3,1228.7 C1489.3,1238.5 1490.1,1247.1 1491.3,1250.5 C1492.5,1253.9 1494.0,1248.9 1495.7,1249.2 C1497.4,1249.5 1499.6,1254.0 1501.6,1252.1 C1503.6,1250.2 1505.5,1242.8 1507.5,1238.0 C1509.5,1233.2 1511.5,1226.5 1513.4,1223.0 C1515.4,1219.5 1517.0,1217.2 1519.2,1217.0 C1521.4,1216.8 1524.4,1222.0 1526.6,1222.0 C1528.8,1222.0 1530.8,1215.9 1532.5,1217.2 C1534.2,1218.5 1535.4,1224.8 1536.9,1230.0 C1538.4,1235.2 1539.8,1244.6 1541.3,1248.5 C1542.8,1252.4 1543.7,1253.7 1545.7,1253.6 C1547.7,1253.5 1550.9,1248.0 1553.1,1247.7 C1555.3,1247.5 1556.5,1250.4 1559.0,1252.1 C1561.5,1253.8 1563.9,1256.9 1567.8,1258.0 C1571.7,1259.1 1579.3,1260.0 1582.5,1258.8 C1585.7,1257.6 1585.5,1255.2 1587.0,1250.7 C1588.5,1246.2 1590.2,1235.9 1591.4,1231.5 C1592.6,1227.1 1593.2,1223.5 1594.3,1224.2 C1595.4,1224.9 1596.8,1231.0 1598.0,1235.9 C1599.2,1240.8 1600.4,1250.0 1601.7,1253.6 C1603.0,1257.2 1604.1,1256.9 1606.1,1257.3 C1608.1,1257.7 1609.8,1255.7 1613.5,1255.8 C1617.2,1255.9 1625.0,1258.4 1628.2,1258.0 C1631.4,1257.6 1630.9,1255.8 1632.6,1253.6 C1634.3,1251.4 1636.4,1244.9 1638.5,1244.8 C1640.6,1244.7 1643.1,1252.9 1645.1,1252.9 C1647.1,1252.9 1648.7,1250.3 1650.3,1244.8 C1651.9,1239.3 1653.4,1229.1 1654.7,1220.0 C1656.0,1210.9 1657.0,1201.7 1658.0,1190.0 C1659.0,1178.3 1660.1,1160.8 1661.0,1150.0 C1661.9,1139.2 1662.5,1131.2 1663.5,1125.0 C1664.5,1118.8 1665.6,1116.2 1667.0,1113.0 C1668.4,1109.8 1670.0,1108.8 1672.0,1106.0 C1674.0,1103.2 1677.2,1096.6 1679.0,1096.2 C1680.8,1095.8 1681.8,1097.9 1682.9,1103.6 C1684.1,1109.2 1684.9,1125.4 1685.9,1130.1 C1686.9,1134.8 1687.8,1132.3 1688.8,1131.6 C1689.8,1130.9 1690.6,1128.9 1691.8,1125.7 C1693.0,1122.5 1694.2,1113.6 1696.2,1112.4 C1698.2,1111.2 1700.9,1116.7 1703.6,1118.3 C1706.3,1119.9 1710.0,1121.5 1712.4,1122.0 C1714.9,1122.5 1716.8,1119.0 1718.3,1121.3 C1719.8,1123.6 1720.2,1126.7 1721.2,1136.0 C1722.2,1145.3 1723.2,1167.1 1724.2,1177.2 C1725.2,1187.3 1726.0,1196.4 1727.1,1196.4 C1728.2,1196.4 1729.6,1187.8 1730.8,1177.2 C1732.0,1166.6 1733.4,1145.3 1734.5,1133.0 C1735.6,1120.7 1736.2,1112.7 1737.4,1103.6 C1738.6,1094.5 1739.8,1084.0 1741.8,1078.6 C1743.8,1073.2 1746.5,1072.4 1749.2,1071.2 C1751.9,1070.0 1755.8,1070.0 1758.0,1071.2 C1760.2,1072.4 1761.2,1074.4 1762.4,1078.6 C1763.6,1082.8 1764.4,1088.3 1765.4,1096.2 C1766.4,1104.1 1767.3,1117.1 1768.3,1125.7 C1769.3,1134.3 1770.1,1139.2 1771.3,1147.8 C1772.5,1156.4 1774.3,1169.6 1775.7,1177.2 C1777.1,1184.8 1777.9,1192.2 1779.4,1193.4 C1780.9,1194.6 1783.2,1191.0 1784.5,1184.6 C1785.8,1178.2 1786.3,1166.6 1787.5,1155.1 C1788.7,1143.6 1790.4,1120.3 1791.9,1115.4 C1793.4,1110.5 1795.1,1119.1 1796.3,1125.7 C1797.5,1132.3 1798.2,1149.5 1799.2,1155.1 C1800.2,1160.7 1800.7,1160.0 1802.2,1159.5 C1803.7,1159.0 1806.4,1154.7 1808.1,1152.2 C1809.8,1149.8 1810.3,1148.0 1812.5,1144.8 C1814.7,1141.6 1818.8,1136.7 1821.3,1133.0 C1823.8,1129.3 1824.8,1126.9 1827.2,1122.7 C1829.7,1118.5 1833.5,1112.9 1836.0,1108.0 C1838.5,1103.1 1839.7,1097.5 1841.9,1093.3 C1844.1,1089.1 1846.8,1085.2 1849.3,1083.0 C1851.8,1080.8 1854.0,1081.8 1856.7,1080.1 C1859.4,1078.4 1862.6,1074.4 1865.5,1072.7 C1868.4,1071.0 1871.6,1069.7 1874.3,1069.7 C1877.0,1069.7 1879.0,1070.7 1881.7,1072.7 C1884.4,1074.7 1887.3,1079.8 1890.5,1081.5 C1893.7,1083.2 1897.6,1081.0 1900.8,1083.0 C1904.0,1085.0 1907.0,1089.9 1909.7,1093.3 C1912.4,1096.7 1914.1,1100.6 1917.0,1103.6 C1919.9,1106.5 1924.8,1108.0 1927.3,1111.0 C1929.8,1114.0 1930.5,1116.4 1931.7,1121.3 C1932.9,1126.2 1933.8,1135.0 1934.7,1140.4 C1935.6,1145.8 1936.5,1151.5 1936.9,1153.7" stroke="#800080" stroke-width="4.6" fill="none" stroke-linejoin="round" stroke-linecap="round"/>
<line x1="1320.2" y1="1354" x2="1320.2" y2="1310" stroke="#000" stroke-width="6" stroke-linecap="round"/>
<path d="M1320.2,1279 L1331,1316 L1309.5,1316 Z" fill="#000"/>
<text x="196.0" y="76.5" font-size="60" class="b">SF</text>
<text x="154.5" y="176.5" font-size="60" class="b">PLA/SF</text>
<text x="171.6" y="247.5" font-size="60" class="b">80/20</text>
<text x="153.7" y="455.9" font-size="60" class="b">PLA/SF/ADR</text>
<text x="159.6" y="541.3" font-size="60" class="b">80/20/0.2</text>
<text x="153.7" y="658.1" font-size="60" class="b">80/20/0.4</text>
<text x="154.0" y="778.0" font-size="60" class="b">80/20/0.6</text>
<text x="151.8" y="873.0" font-size="60" class="b">80/20/0.8</text>
<text x="151.0" y="984.8" font-size="60" class="b">80/20/1.0</text>
<text x="163.6" y="1095.2" font-size="60" class="b">PLA</text>
<text x="1344.6" y="1342.4" font-size="53" class="b">1735 cm</text>
<text x="1537" y="1311" font-size="36" class="b">-1</text>
<text x="758.9" y="1561.3" font-size="72" class="b" textLength="585.7" lengthAdjust="spacingAndGlyphs">Wavenumbers (cm</text>
<text x="1349" y="1523.5" font-size="44" class="b">-1</text>
<text x="1389" y="1561.3" font-size="72" class="b">)</text>
<text transform="translate(72.6,949) rotate(-90)" x="0" y="0" font-size="76" class="b" textLength="515" lengthAdjust="spacingAndGlyphs">Transmitance %</text>
</g>
</svg>
</body></html>
